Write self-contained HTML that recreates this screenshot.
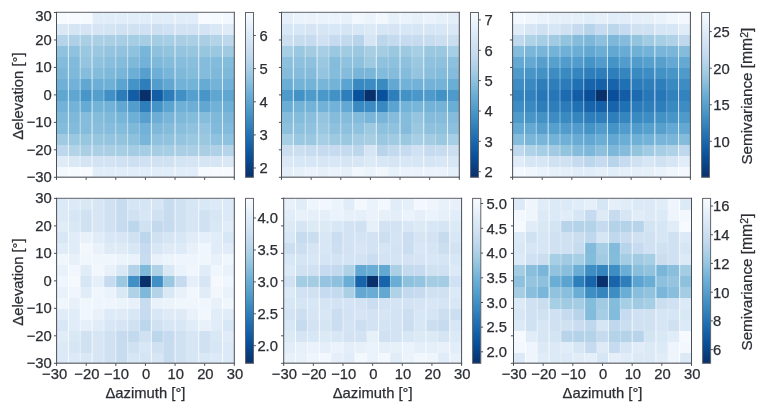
<!DOCTYPE html>
<html><head><meta charset="utf-8"><title>Semivariance maps</title>
<style>
html,body{margin:0;padding:0;background:#fff;}
body{width:765px;height:410px;overflow:hidden;}
svg{display:block;will-change:transform;}
svg text{font-family:"Liberation Sans",sans-serif;font-size:14.8px;fill:#2b2e33;stroke:#2b2e33;stroke-width:0.25px;}
</style></head><body>
<svg width="765" height="410" viewBox="0 0 765 410">
<rect width="765" height="410" fill="#fff"/>

<defs><linearGradient id="cb" x1="0" y1="0" x2="0" y2="1"><stop offset="0.00" stop-color="#f7fbff"/><stop offset="0.05" stop-color="#eef5fc"/><stop offset="0.10" stop-color="#e3eef9"/><stop offset="0.15" stop-color="#d9e8f5"/><stop offset="0.20" stop-color="#d0e1f2"/><stop offset="0.25" stop-color="#c6dbef"/><stop offset="0.30" stop-color="#b7d4ea"/><stop offset="0.35" stop-color="#a6cee4"/><stop offset="0.40" stop-color="#94c4df"/><stop offset="0.45" stop-color="#7fb9da"/><stop offset="0.50" stop-color="#6aaed6"/><stop offset="0.55" stop-color="#5ba3d0"/><stop offset="0.60" stop-color="#4a98c9"/><stop offset="0.65" stop-color="#3b8bc2"/><stop offset="0.70" stop-color="#2e7ebc"/><stop offset="0.75" stop-color="#2070b4"/><stop offset="0.80" stop-color="#1764ab"/><stop offset="0.85" stop-color="#0d57a1"/><stop offset="0.90" stop-color="#084a91"/><stop offset="0.95" stop-color="#083c7d"/><stop offset="1.00" stop-color="#08306b"/></linearGradient></defs>
<g shape-rendering="crispEdges"><rect x="56.50" y="12.50" width="12.45" height="12.29" fill="#f7fbff"/><rect x="68.35" y="12.50" width="12.45" height="12.29" fill="#f7fbff"/><rect x="80.21" y="12.50" width="12.45" height="12.29" fill="#f5fafe"/><rect x="92.06" y="12.50" width="12.45" height="12.29" fill="#e1edf8"/><rect x="103.91" y="12.50" width="12.45" height="12.29" fill="#e1edf8"/><rect x="115.77" y="12.50" width="12.45" height="12.29" fill="#e1edf8"/><rect x="127.62" y="12.50" width="12.45" height="12.29" fill="#e1edf8"/><rect x="139.47" y="12.50" width="12.45" height="12.29" fill="#e1edf8"/><rect x="151.33" y="12.50" width="12.45" height="12.29" fill="#e1edf8"/><rect x="163.18" y="12.50" width="12.45" height="12.29" fill="#e1edf8"/><rect x="175.03" y="12.50" width="12.45" height="12.29" fill="#e1edf8"/><rect x="186.89" y="12.50" width="12.45" height="12.29" fill="#e1edf8"/><rect x="198.74" y="12.50" width="12.45" height="12.29" fill="#f7fbff"/><rect x="210.59" y="12.50" width="12.45" height="12.29" fill="#f5fafe"/><rect x="222.45" y="12.50" width="11.85" height="12.29" fill="#f3f8fe"/><rect x="56.50" y="24.19" width="12.45" height="11.59" fill="#dae8f6"/><rect x="68.35" y="24.19" width="12.45" height="11.59" fill="#d6e5f4"/><rect x="80.21" y="24.19" width="12.45" height="11.59" fill="#d5e5f4"/><rect x="92.06" y="24.19" width="12.45" height="11.59" fill="#d5e5f4"/><rect x="103.91" y="24.19" width="12.45" height="11.59" fill="#d3e4f3"/><rect x="115.77" y="24.19" width="12.45" height="11.59" fill="#d0e1f2"/><rect x="127.62" y="24.19" width="12.45" height="11.59" fill="#d0e1f2"/><rect x="139.47" y="24.19" width="12.45" height="11.59" fill="#cfe1f2"/><rect x="151.33" y="24.19" width="12.45" height="11.59" fill="#cde0f1"/><rect x="163.18" y="24.19" width="12.45" height="11.59" fill="#cfe1f2"/><rect x="175.03" y="24.19" width="12.45" height="11.59" fill="#d3e3f3"/><rect x="186.89" y="24.19" width="12.45" height="11.59" fill="#d3e3f3"/><rect x="198.74" y="24.19" width="12.45" height="11.59" fill="#d4e4f4"/><rect x="210.59" y="24.19" width="12.45" height="11.59" fill="#dae8f6"/><rect x="222.45" y="24.19" width="11.85" height="11.59" fill="#dfebf7"/><rect x="56.50" y="35.17" width="12.45" height="11.59" fill="#b5d4e9"/><rect x="68.35" y="35.17" width="12.45" height="11.59" fill="#aed1e7"/><rect x="80.21" y="35.17" width="12.45" height="11.59" fill="#aacfe5"/><rect x="92.06" y="35.17" width="12.45" height="11.59" fill="#abd0e6"/><rect x="103.91" y="35.17" width="12.45" height="11.59" fill="#aacfe5"/><rect x="115.77" y="35.17" width="12.45" height="11.59" fill="#a6cee4"/><rect x="127.62" y="35.17" width="12.45" height="11.59" fill="#a5cde3"/><rect x="139.47" y="35.17" width="12.45" height="11.59" fill="#a5cde3"/><rect x="151.33" y="35.17" width="12.45" height="11.59" fill="#a4cce3"/><rect x="163.18" y="35.17" width="12.45" height="11.59" fill="#a6cee4"/><rect x="175.03" y="35.17" width="12.45" height="11.59" fill="#aacfe5"/><rect x="186.89" y="35.17" width="12.45" height="11.59" fill="#abd0e6"/><rect x="198.74" y="35.17" width="12.45" height="11.59" fill="#aacfe5"/><rect x="210.59" y="35.17" width="12.45" height="11.59" fill="#b3d3e8"/><rect x="222.45" y="35.17" width="11.85" height="11.59" fill="#bdd7ec"/><rect x="56.50" y="46.16" width="12.45" height="11.59" fill="#8fc2de"/><rect x="68.35" y="46.16" width="12.45" height="11.59" fill="#8fc2de"/><rect x="80.21" y="46.16" width="12.45" height="11.59" fill="#9ac8e0"/><rect x="92.06" y="46.16" width="12.45" height="11.59" fill="#9ac8e0"/><rect x="103.91" y="46.16" width="12.45" height="11.59" fill="#94c4df"/><rect x="115.77" y="46.16" width="12.45" height="11.59" fill="#91c3de"/><rect x="127.62" y="46.16" width="12.45" height="11.59" fill="#8fc2de"/><rect x="139.47" y="46.16" width="12.45" height="11.59" fill="#77b5d9"/><rect x="151.33" y="46.16" width="12.45" height="11.59" fill="#8dc1dd"/><rect x="163.18" y="46.16" width="12.45" height="11.59" fill="#92c4de"/><rect x="175.03" y="46.16" width="12.45" height="11.59" fill="#94c4df"/><rect x="186.89" y="46.16" width="12.45" height="11.59" fill="#97c6df"/><rect x="198.74" y="46.16" width="12.45" height="11.59" fill="#97c6df"/><rect x="210.59" y="46.16" width="12.45" height="11.59" fill="#9ac8e0"/><rect x="222.45" y="46.16" width="11.85" height="11.59" fill="#9fcae1"/><rect x="56.50" y="57.15" width="12.45" height="11.59" fill="#82bbdb"/><rect x="68.35" y="57.15" width="12.45" height="11.59" fill="#81badb"/><rect x="80.21" y="57.15" width="12.45" height="11.59" fill="#94c4df"/><rect x="92.06" y="57.15" width="12.45" height="11.59" fill="#8fc2de"/><rect x="103.91" y="57.15" width="12.45" height="11.59" fill="#89bedc"/><rect x="115.77" y="57.15" width="12.45" height="11.59" fill="#85bcdc"/><rect x="127.62" y="57.15" width="12.45" height="11.59" fill="#7fb9da"/><rect x="139.47" y="57.15" width="12.45" height="11.59" fill="#72b2d8"/><rect x="151.33" y="57.15" width="12.45" height="11.59" fill="#7fb9da"/><rect x="163.18" y="57.15" width="12.45" height="11.59" fill="#84bcdb"/><rect x="175.03" y="57.15" width="12.45" height="11.59" fill="#87bddc"/><rect x="186.89" y="57.15" width="12.45" height="11.59" fill="#89bedc"/><rect x="198.74" y="57.15" width="12.45" height="11.59" fill="#85bcdc"/><rect x="210.59" y="57.15" width="12.45" height="11.59" fill="#82bbdb"/><rect x="222.45" y="57.15" width="11.85" height="11.59" fill="#84bcdb"/><rect x="56.50" y="68.13" width="12.45" height="11.59" fill="#7cb7da"/><rect x="68.35" y="68.13" width="12.45" height="11.59" fill="#7fb9da"/><rect x="80.21" y="68.13" width="12.45" height="11.59" fill="#87bddc"/><rect x="92.06" y="68.13" width="12.45" height="11.59" fill="#84bcdb"/><rect x="103.91" y="68.13" width="12.45" height="11.59" fill="#7fb9da"/><rect x="115.77" y="68.13" width="12.45" height="11.59" fill="#79b5d9"/><rect x="127.62" y="68.13" width="12.45" height="11.59" fill="#6caed6"/><rect x="139.47" y="68.13" width="12.45" height="11.59" fill="#57a0ce"/><rect x="151.33" y="68.13" width="12.45" height="11.59" fill="#6dafd7"/><rect x="163.18" y="68.13" width="12.45" height="11.59" fill="#77b5d9"/><rect x="175.03" y="68.13" width="12.45" height="11.59" fill="#7fb9da"/><rect x="186.89" y="68.13" width="12.45" height="11.59" fill="#84bcdb"/><rect x="198.74" y="68.13" width="12.45" height="11.59" fill="#85bcdc"/><rect x="210.59" y="68.13" width="12.45" height="11.59" fill="#7fb9da"/><rect x="222.45" y="68.13" width="11.85" height="11.59" fill="#7fb9da"/><rect x="56.50" y="79.12" width="12.45" height="11.59" fill="#6fb0d7"/><rect x="68.35" y="79.12" width="12.45" height="11.59" fill="#72b2d8"/><rect x="80.21" y="79.12" width="12.45" height="11.59" fill="#61a7d2"/><rect x="92.06" y="79.12" width="12.45" height="11.59" fill="#6caed6"/><rect x="103.91" y="79.12" width="12.45" height="11.59" fill="#6fb0d7"/><rect x="115.77" y="79.12" width="12.45" height="11.59" fill="#5ba3d0"/><rect x="127.62" y="79.12" width="12.45" height="11.59" fill="#4594c7"/><rect x="139.47" y="79.12" width="12.45" height="11.59" fill="#2e7ebc"/><rect x="151.33" y="79.12" width="12.45" height="11.59" fill="#529dcc"/><rect x="163.18" y="79.12" width="12.45" height="11.59" fill="#61a7d2"/><rect x="175.03" y="79.12" width="12.45" height="11.59" fill="#72b2d8"/><rect x="186.89" y="79.12" width="12.45" height="11.59" fill="#74b3d8"/><rect x="198.74" y="79.12" width="12.45" height="11.59" fill="#66abd4"/><rect x="210.59" y="79.12" width="12.45" height="11.59" fill="#74b3d8"/><rect x="222.45" y="79.12" width="11.85" height="11.59" fill="#72b2d8"/><rect x="56.50" y="90.11" width="12.45" height="11.59" fill="#5fa6d1"/><rect x="68.35" y="90.11" width="12.45" height="11.59" fill="#5fa6d1"/><rect x="80.21" y="90.11" width="12.45" height="11.59" fill="#4896c8"/><rect x="92.06" y="90.11" width="12.45" height="11.59" fill="#549fcd"/><rect x="103.91" y="90.11" width="12.45" height="11.59" fill="#4090c5"/><rect x="115.77" y="90.11" width="12.45" height="11.59" fill="#2c7cba"/><rect x="127.62" y="90.11" width="12.45" height="11.59" fill="#125ea6"/><rect x="139.47" y="90.11" width="12.45" height="11.59" fill="#08306b"/><rect x="151.33" y="90.11" width="12.45" height="11.59" fill="#125ea6"/><rect x="163.18" y="90.11" width="12.45" height="11.59" fill="#2c7cba"/><rect x="175.03" y="90.11" width="12.45" height="11.59" fill="#4090c5"/><rect x="186.89" y="90.11" width="12.45" height="11.59" fill="#549fcd"/><rect x="198.74" y="90.11" width="12.45" height="11.59" fill="#4896c8"/><rect x="210.59" y="90.11" width="12.45" height="11.59" fill="#5fa6d1"/><rect x="222.45" y="90.11" width="11.85" height="11.59" fill="#5fa6d1"/><rect x="56.50" y="101.09" width="12.45" height="11.59" fill="#72b2d8"/><rect x="68.35" y="101.09" width="12.45" height="11.59" fill="#74b3d8"/><rect x="80.21" y="101.09" width="12.45" height="11.59" fill="#66abd4"/><rect x="92.06" y="101.09" width="12.45" height="11.59" fill="#74b3d8"/><rect x="103.91" y="101.09" width="12.45" height="11.59" fill="#72b2d8"/><rect x="115.77" y="101.09" width="12.45" height="11.59" fill="#61a7d2"/><rect x="127.62" y="101.09" width="12.45" height="11.59" fill="#529dcc"/><rect x="139.47" y="101.09" width="12.45" height="11.59" fill="#2e7ebc"/><rect x="151.33" y="101.09" width="12.45" height="11.59" fill="#4594c7"/><rect x="163.18" y="101.09" width="12.45" height="11.59" fill="#5ba3d0"/><rect x="175.03" y="101.09" width="12.45" height="11.59" fill="#6fb0d7"/><rect x="186.89" y="101.09" width="12.45" height="11.59" fill="#6caed6"/><rect x="198.74" y="101.09" width="12.45" height="11.59" fill="#61a7d2"/><rect x="210.59" y="101.09" width="12.45" height="11.59" fill="#72b2d8"/><rect x="222.45" y="101.09" width="11.85" height="11.59" fill="#6fb0d7"/><rect x="56.50" y="112.08" width="12.45" height="11.59" fill="#7fb9da"/><rect x="68.35" y="112.08" width="12.45" height="11.59" fill="#7fb9da"/><rect x="80.21" y="112.08" width="12.45" height="11.59" fill="#85bcdc"/><rect x="92.06" y="112.08" width="12.45" height="11.59" fill="#84bcdb"/><rect x="103.91" y="112.08" width="12.45" height="11.59" fill="#7fb9da"/><rect x="115.77" y="112.08" width="12.45" height="11.59" fill="#77b5d9"/><rect x="127.62" y="112.08" width="12.45" height="11.59" fill="#6dafd7"/><rect x="139.47" y="112.08" width="12.45" height="11.59" fill="#57a0ce"/><rect x="151.33" y="112.08" width="12.45" height="11.59" fill="#6caed6"/><rect x="163.18" y="112.08" width="12.45" height="11.59" fill="#79b5d9"/><rect x="175.03" y="112.08" width="12.45" height="11.59" fill="#7fb9da"/><rect x="186.89" y="112.08" width="12.45" height="11.59" fill="#84bcdb"/><rect x="198.74" y="112.08" width="12.45" height="11.59" fill="#87bddc"/><rect x="210.59" y="112.08" width="12.45" height="11.59" fill="#7fb9da"/><rect x="222.45" y="112.08" width="11.85" height="11.59" fill="#7cb7da"/><rect x="56.50" y="123.07" width="12.45" height="11.59" fill="#84bcdb"/><rect x="68.35" y="123.07" width="12.45" height="11.59" fill="#82bbdb"/><rect x="80.21" y="123.07" width="12.45" height="11.59" fill="#85bcdc"/><rect x="92.06" y="123.07" width="12.45" height="11.59" fill="#89bedc"/><rect x="103.91" y="123.07" width="12.45" height="11.59" fill="#87bddc"/><rect x="115.77" y="123.07" width="12.45" height="11.59" fill="#84bcdb"/><rect x="127.62" y="123.07" width="12.45" height="11.59" fill="#7fb9da"/><rect x="139.47" y="123.07" width="12.45" height="11.59" fill="#72b2d8"/><rect x="151.33" y="123.07" width="12.45" height="11.59" fill="#7fb9da"/><rect x="163.18" y="123.07" width="12.45" height="11.59" fill="#85bcdc"/><rect x="175.03" y="123.07" width="12.45" height="11.59" fill="#89bedc"/><rect x="186.89" y="123.07" width="12.45" height="11.59" fill="#8fc2de"/><rect x="198.74" y="123.07" width="12.45" height="11.59" fill="#94c4df"/><rect x="210.59" y="123.07" width="12.45" height="11.59" fill="#81badb"/><rect x="222.45" y="123.07" width="11.85" height="11.59" fill="#82bbdb"/><rect x="56.50" y="134.05" width="12.45" height="11.59" fill="#9fcae1"/><rect x="68.35" y="134.05" width="12.45" height="11.59" fill="#9ac8e0"/><rect x="80.21" y="134.05" width="12.45" height="11.59" fill="#97c6df"/><rect x="92.06" y="134.05" width="12.45" height="11.59" fill="#97c6df"/><rect x="103.91" y="134.05" width="12.45" height="11.59" fill="#94c4df"/><rect x="115.77" y="134.05" width="12.45" height="11.59" fill="#92c4de"/><rect x="127.62" y="134.05" width="12.45" height="11.59" fill="#8dc1dd"/><rect x="139.47" y="134.05" width="12.45" height="11.59" fill="#77b5d9"/><rect x="151.33" y="134.05" width="12.45" height="11.59" fill="#8fc2de"/><rect x="163.18" y="134.05" width="12.45" height="11.59" fill="#91c3de"/><rect x="175.03" y="134.05" width="12.45" height="11.59" fill="#94c4df"/><rect x="186.89" y="134.05" width="12.45" height="11.59" fill="#9ac8e0"/><rect x="198.74" y="134.05" width="12.45" height="11.59" fill="#9ac8e0"/><rect x="210.59" y="134.05" width="12.45" height="11.59" fill="#8fc2de"/><rect x="222.45" y="134.05" width="11.85" height="11.59" fill="#8fc2de"/><rect x="56.50" y="145.04" width="12.45" height="11.59" fill="#bdd7ec"/><rect x="68.35" y="145.04" width="12.45" height="11.59" fill="#b3d3e8"/><rect x="80.21" y="145.04" width="12.45" height="11.59" fill="#aacfe5"/><rect x="92.06" y="145.04" width="12.45" height="11.59" fill="#abd0e6"/><rect x="103.91" y="145.04" width="12.45" height="11.59" fill="#aacfe5"/><rect x="115.77" y="145.04" width="12.45" height="11.59" fill="#a6cee4"/><rect x="127.62" y="145.04" width="12.45" height="11.59" fill="#a4cce3"/><rect x="139.47" y="145.04" width="12.45" height="11.59" fill="#a5cde3"/><rect x="151.33" y="145.04" width="12.45" height="11.59" fill="#a5cde3"/><rect x="163.18" y="145.04" width="12.45" height="11.59" fill="#a6cee4"/><rect x="175.03" y="145.04" width="12.45" height="11.59" fill="#aacfe5"/><rect x="186.89" y="145.04" width="12.45" height="11.59" fill="#abd0e6"/><rect x="198.74" y="145.04" width="12.45" height="11.59" fill="#aacfe5"/><rect x="210.59" y="145.04" width="12.45" height="11.59" fill="#aed1e7"/><rect x="222.45" y="145.04" width="11.85" height="11.59" fill="#b5d4e9"/><rect x="56.50" y="156.03" width="12.45" height="11.59" fill="#dfebf7"/><rect x="68.35" y="156.03" width="12.45" height="11.59" fill="#dae8f6"/><rect x="80.21" y="156.03" width="12.45" height="11.59" fill="#d4e4f4"/><rect x="92.06" y="156.03" width="12.45" height="11.59" fill="#d3e3f3"/><rect x="103.91" y="156.03" width="12.45" height="11.59" fill="#d3e3f3"/><rect x="115.77" y="156.03" width="12.45" height="11.59" fill="#cfe1f2"/><rect x="127.62" y="156.03" width="12.45" height="11.59" fill="#cde0f1"/><rect x="139.47" y="156.03" width="12.45" height="11.59" fill="#cfe1f2"/><rect x="151.33" y="156.03" width="12.45" height="11.59" fill="#d0e1f2"/><rect x="163.18" y="156.03" width="12.45" height="11.59" fill="#d0e1f2"/><rect x="175.03" y="156.03" width="12.45" height="11.59" fill="#d3e4f3"/><rect x="186.89" y="156.03" width="12.45" height="11.59" fill="#d5e5f4"/><rect x="198.74" y="156.03" width="12.45" height="11.59" fill="#d5e5f4"/><rect x="210.59" y="156.03" width="12.45" height="11.59" fill="#d6e5f4"/><rect x="222.45" y="156.03" width="11.85" height="11.59" fill="#dae8f6"/><rect x="56.50" y="167.01" width="12.45" height="10.29" fill="#f3f8fe"/><rect x="68.35" y="167.01" width="12.45" height="10.29" fill="#f5fafe"/><rect x="80.21" y="167.01" width="12.45" height="10.29" fill="#f7fbff"/><rect x="92.06" y="167.01" width="12.45" height="10.29" fill="#e1edf8"/><rect x="103.91" y="167.01" width="12.45" height="10.29" fill="#e1edf8"/><rect x="115.77" y="167.01" width="12.45" height="10.29" fill="#e1edf8"/><rect x="127.62" y="167.01" width="12.45" height="10.29" fill="#e1edf8"/><rect x="139.47" y="167.01" width="12.45" height="10.29" fill="#e1edf8"/><rect x="151.33" y="167.01" width="12.45" height="10.29" fill="#e1edf8"/><rect x="163.18" y="167.01" width="12.45" height="10.29" fill="#e1edf8"/><rect x="175.03" y="167.01" width="12.45" height="10.29" fill="#e1edf8"/><rect x="186.89" y="167.01" width="12.45" height="10.29" fill="#e1edf8"/><rect x="198.74" y="167.01" width="12.45" height="10.29" fill="#f5fafe"/><rect x="210.59" y="167.01" width="12.45" height="10.29" fill="#f7fbff"/><rect x="222.45" y="167.01" width="11.85" height="10.29" fill="#f7fbff"/></g>
<g fill="#fff"><rect x="67.85" y="12.50" width="1" height="164.80" opacity="0.77"/><rect x="79.71" y="12.50" width="1" height="164.80" opacity="0.50"/><rect x="91.56" y="12.50" width="1" height="164.80" opacity="0.77"/><rect x="103.41" y="12.50" width="1" height="164.80" opacity="0.39"/><rect x="115.27" y="12.50" width="1" height="164.80" opacity="0.50"/><rect x="127.12" y="12.50" width="1" height="164.80" opacity="0.55"/><rect x="138.97" y="12.50" width="1" height="164.80" opacity="0.28"/><rect x="150.83" y="12.50" width="1" height="164.80" opacity="0.77"/><rect x="162.68" y="12.50" width="1" height="164.80" opacity="0.28"/><rect x="174.53" y="12.50" width="1" height="164.80" opacity="0.77"/><rect x="186.39" y="12.50" width="1" height="164.80" opacity="0.28"/><rect x="198.24" y="12.50" width="1" height="164.80" opacity="0.77"/><rect x="210.09" y="12.50" width="1" height="164.80" opacity="0.28"/><rect x="221.95" y="12.50" width="1" height="164.80" opacity="0.77"/></g>
<path d="M56.00,12.40H234.80M56.00,177.20H234.80" stroke="#7c8086" stroke-width="1.35" fill="none"/>
<path d="M56.50,11.90V177.80M234.30,11.90V177.80" stroke="#4a4e55" stroke-width="1" fill="none"/>
<path d="M56.50,177.30v2.6 M56.50,177.30h-2.6 M86.13,177.30v2.6 M56.50,149.83h-2.6 M115.77,177.30v2.6 M56.50,122.37h-2.6 M145.40,177.30v2.6 M56.50,94.90h-2.6 M175.03,177.30v2.6 M56.50,67.43h-2.6 M204.67,177.30v2.6 M56.50,39.97h-2.6 M234.30,177.30v2.6 M56.50,12.50h-2.6" stroke="#4a4e55" stroke-width="1" fill="none"/>
<text x="51.8" y="182.00" text-anchor="end">−30</text>
<text x="51.8" y="154.53" text-anchor="end">−20</text>
<text x="51.8" y="127.07" text-anchor="end">−10</text>
<text x="51.8" y="99.60" text-anchor="end">0</text>
<text x="51.8" y="72.13" text-anchor="end">10</text>
<text x="51.8" y="44.67" text-anchor="end">20</text>
<text x="51.8" y="21.00" text-anchor="end">30</text>
<text transform="translate(22.8,96.10) rotate(-90)" text-anchor="middle">Δelevation [°]</text>
<g shape-rendering="crispEdges"><rect x="281.50" y="12.50" width="12.45" height="12.29" fill="#e4eff9"/><rect x="293.35" y="12.50" width="12.45" height="12.29" fill="#eaf2fb"/><rect x="305.21" y="12.50" width="12.45" height="12.29" fill="#eaf2fb"/><rect x="317.06" y="12.50" width="12.45" height="12.29" fill="#eaf2fb"/><rect x="328.91" y="12.50" width="12.45" height="12.29" fill="#eaf2fb"/><rect x="340.77" y="12.50" width="12.45" height="12.29" fill="#e7f1fa"/><rect x="352.62" y="12.50" width="12.45" height="12.29" fill="#f1f7fd"/><rect x="364.47" y="12.50" width="12.45" height="12.29" fill="#ecf4fb"/><rect x="376.33" y="12.50" width="12.45" height="12.29" fill="#f1f7fd"/><rect x="388.18" y="12.50" width="12.45" height="12.29" fill="#e6f0f9"/><rect x="400.03" y="12.50" width="12.45" height="12.29" fill="#eaf2fb"/><rect x="411.89" y="12.50" width="12.45" height="12.29" fill="#e6f0f9"/><rect x="423.74" y="12.50" width="12.45" height="12.29" fill="#eaf2fb"/><rect x="435.59" y="12.50" width="12.45" height="12.29" fill="#e6f0f9"/><rect x="447.45" y="12.50" width="11.85" height="12.29" fill="#e3eef8"/><rect x="281.50" y="24.19" width="12.45" height="11.59" fill="#d8e7f5"/><rect x="293.35" y="24.19" width="12.45" height="11.59" fill="#d8e7f5"/><rect x="305.21" y="24.19" width="12.45" height="11.59" fill="#d6e5f4"/><rect x="317.06" y="24.19" width="12.45" height="11.59" fill="#d7e6f5"/><rect x="328.91" y="24.19" width="12.45" height="11.59" fill="#d8e7f5"/><rect x="340.77" y="24.19" width="12.45" height="11.59" fill="#d6e5f4"/><rect x="352.62" y="24.19" width="12.45" height="11.59" fill="#d8e7f5"/><rect x="364.47" y="24.19" width="12.45" height="11.59" fill="#dceaf6"/><rect x="376.33" y="24.19" width="12.45" height="11.59" fill="#d7e6f5"/><rect x="388.18" y="24.19" width="12.45" height="11.59" fill="#d6e5f4"/><rect x="400.03" y="24.19" width="12.45" height="11.59" fill="#d8e7f5"/><rect x="411.89" y="24.19" width="12.45" height="11.59" fill="#d7e6f5"/><rect x="423.74" y="24.19" width="12.45" height="11.59" fill="#d7e6f5"/><rect x="435.59" y="24.19" width="12.45" height="11.59" fill="#d8e7f5"/><rect x="447.45" y="24.19" width="11.85" height="11.59" fill="#dae8f6"/><rect x="281.50" y="35.17" width="12.45" height="11.59" fill="#ccdff1"/><rect x="293.35" y="35.17" width="12.45" height="11.59" fill="#c8dcf0"/><rect x="305.21" y="35.17" width="12.45" height="11.59" fill="#c6dbef"/><rect x="317.06" y="35.17" width="12.45" height="11.59" fill="#cfe1f2"/><rect x="328.91" y="35.17" width="12.45" height="11.59" fill="#c6dbef"/><rect x="340.77" y="35.17" width="12.45" height="11.59" fill="#c2d9ee"/><rect x="352.62" y="35.17" width="12.45" height="11.59" fill="#b7d4ea"/><rect x="364.47" y="35.17" width="12.45" height="11.59" fill="#d6e5f4"/><rect x="376.33" y="35.17" width="12.45" height="11.59" fill="#bcd7eb"/><rect x="388.18" y="35.17" width="12.45" height="11.59" fill="#c4daee"/><rect x="400.03" y="35.17" width="12.45" height="11.59" fill="#c6dbef"/><rect x="411.89" y="35.17" width="12.45" height="11.59" fill="#c6dbef"/><rect x="423.74" y="35.17" width="12.45" height="11.59" fill="#c8dcf0"/><rect x="435.59" y="35.17" width="12.45" height="11.59" fill="#ccdff1"/><rect x="447.45" y="35.17" width="11.85" height="11.59" fill="#cadef0"/><rect x="281.50" y="46.16" width="12.45" height="11.59" fill="#a6cee4"/><rect x="293.35" y="46.16" width="12.45" height="11.59" fill="#9ac8e0"/><rect x="305.21" y="46.16" width="12.45" height="11.59" fill="#a3cce3"/><rect x="317.06" y="46.16" width="12.45" height="11.59" fill="#a6cee4"/><rect x="328.91" y="46.16" width="12.45" height="11.59" fill="#9ac8e0"/><rect x="340.77" y="46.16" width="12.45" height="11.59" fill="#a0cbe2"/><rect x="352.62" y="46.16" width="12.45" height="11.59" fill="#9ac8e0"/><rect x="364.47" y="46.16" width="12.45" height="11.59" fill="#a8cee4"/><rect x="376.33" y="46.16" width="12.45" height="11.59" fill="#a4cce3"/><rect x="388.18" y="46.16" width="12.45" height="11.59" fill="#9ac8e0"/><rect x="400.03" y="46.16" width="12.45" height="11.59" fill="#9dcae1"/><rect x="411.89" y="46.16" width="12.45" height="11.59" fill="#a6cee4"/><rect x="423.74" y="46.16" width="12.45" height="11.59" fill="#9ac8e0"/><rect x="435.59" y="46.16" width="12.45" height="11.59" fill="#9ac8e0"/><rect x="447.45" y="46.16" width="11.85" height="11.59" fill="#a6cee4"/><rect x="281.50" y="57.15" width="12.45" height="11.59" fill="#8cc0dd"/><rect x="293.35" y="57.15" width="12.45" height="11.59" fill="#8dc1dd"/><rect x="305.21" y="57.15" width="12.45" height="11.59" fill="#8dc1dd"/><rect x="317.06" y="57.15" width="12.45" height="11.59" fill="#9ac8e0"/><rect x="328.91" y="57.15" width="12.45" height="11.59" fill="#85bcdc"/><rect x="340.77" y="57.15" width="12.45" height="11.59" fill="#8fc2de"/><rect x="352.62" y="57.15" width="12.45" height="11.59" fill="#8dc1dd"/><rect x="364.47" y="57.15" width="12.45" height="11.59" fill="#9dcae1"/><rect x="376.33" y="57.15" width="12.45" height="11.59" fill="#8fc2de"/><rect x="388.18" y="57.15" width="12.45" height="11.59" fill="#8dc1dd"/><rect x="400.03" y="57.15" width="12.45" height="11.59" fill="#8dc1dd"/><rect x="411.89" y="57.15" width="12.45" height="11.59" fill="#9ac8e0"/><rect x="423.74" y="57.15" width="12.45" height="11.59" fill="#8fc2de"/><rect x="435.59" y="57.15" width="12.45" height="11.59" fill="#8dc1dd"/><rect x="447.45" y="57.15" width="11.85" height="11.59" fill="#8cc0dd"/><rect x="281.50" y="68.13" width="12.45" height="11.59" fill="#85bcdc"/><rect x="293.35" y="68.13" width="12.45" height="11.59" fill="#85bcdc"/><rect x="305.21" y="68.13" width="12.45" height="11.59" fill="#85bcdc"/><rect x="317.06" y="68.13" width="12.45" height="11.59" fill="#94c4df"/><rect x="328.91" y="68.13" width="12.45" height="11.59" fill="#84bcdb"/><rect x="340.77" y="68.13" width="12.45" height="11.59" fill="#85bcdc"/><rect x="352.62" y="68.13" width="12.45" height="11.59" fill="#79b5d9"/><rect x="364.47" y="68.13" width="12.45" height="11.59" fill="#7ab6d9"/><rect x="376.33" y="68.13" width="12.45" height="11.59" fill="#82bbdb"/><rect x="388.18" y="68.13" width="12.45" height="11.59" fill="#85bcdc"/><rect x="400.03" y="68.13" width="12.45" height="11.59" fill="#85bcdc"/><rect x="411.89" y="68.13" width="12.45" height="11.59" fill="#94c4df"/><rect x="423.74" y="68.13" width="12.45" height="11.59" fill="#89bedc"/><rect x="435.59" y="68.13" width="12.45" height="11.59" fill="#84bcdb"/><rect x="447.45" y="68.13" width="11.85" height="11.59" fill="#85bcdc"/><rect x="281.50" y="79.12" width="12.45" height="11.59" fill="#6aaed6"/><rect x="293.35" y="79.12" width="12.45" height="11.59" fill="#74b3d8"/><rect x="305.21" y="79.12" width="12.45" height="11.59" fill="#74b3d8"/><rect x="317.06" y="79.12" width="12.45" height="11.59" fill="#77b5d9"/><rect x="328.91" y="79.12" width="12.45" height="11.59" fill="#74b3d8"/><rect x="340.77" y="79.12" width="12.45" height="11.59" fill="#5ba3d0"/><rect x="352.62" y="79.12" width="12.45" height="11.59" fill="#3888c1"/><rect x="364.47" y="79.12" width="12.45" height="11.59" fill="#3c8cc3"/><rect x="376.33" y="79.12" width="12.45" height="11.59" fill="#3a8ac2"/><rect x="388.18" y="79.12" width="12.45" height="11.59" fill="#63a8d3"/><rect x="400.03" y="79.12" width="12.45" height="11.59" fill="#72b2d8"/><rect x="411.89" y="79.12" width="12.45" height="11.59" fill="#72b2d8"/><rect x="423.74" y="79.12" width="12.45" height="11.59" fill="#74b3d8"/><rect x="435.59" y="79.12" width="12.45" height="11.59" fill="#74b3d8"/><rect x="447.45" y="79.12" width="11.85" height="11.59" fill="#6aaed6"/><rect x="281.50" y="90.11" width="12.45" height="11.59" fill="#4e9acb"/><rect x="293.35" y="90.11" width="12.45" height="11.59" fill="#4292c6"/><rect x="305.21" y="90.11" width="12.45" height="11.59" fill="#4e9acb"/><rect x="317.06" y="90.11" width="12.45" height="11.59" fill="#4a98c9"/><rect x="328.91" y="90.11" width="12.45" height="11.59" fill="#4292c6"/><rect x="340.77" y="90.11" width="12.45" height="11.59" fill="#2e7ebc"/><rect x="352.62" y="90.11" width="12.45" height="11.59" fill="#08519c"/><rect x="364.47" y="90.11" width="12.45" height="11.59" fill="#08306b"/><rect x="376.33" y="90.11" width="12.45" height="11.59" fill="#08519c"/><rect x="388.18" y="90.11" width="12.45" height="11.59" fill="#2e7ebc"/><rect x="400.03" y="90.11" width="12.45" height="11.59" fill="#4292c6"/><rect x="411.89" y="90.11" width="12.45" height="11.59" fill="#4a98c9"/><rect x="423.74" y="90.11" width="12.45" height="11.59" fill="#4e9acb"/><rect x="435.59" y="90.11" width="12.45" height="11.59" fill="#4292c6"/><rect x="447.45" y="90.11" width="11.85" height="11.59" fill="#4e9acb"/><rect x="281.50" y="101.09" width="12.45" height="11.59" fill="#6aaed6"/><rect x="293.35" y="101.09" width="12.45" height="11.59" fill="#74b3d8"/><rect x="305.21" y="101.09" width="12.45" height="11.59" fill="#74b3d8"/><rect x="317.06" y="101.09" width="12.45" height="11.59" fill="#72b2d8"/><rect x="328.91" y="101.09" width="12.45" height="11.59" fill="#72b2d8"/><rect x="340.77" y="101.09" width="12.45" height="11.59" fill="#63a8d3"/><rect x="352.62" y="101.09" width="12.45" height="11.59" fill="#3a8ac2"/><rect x="364.47" y="101.09" width="12.45" height="11.59" fill="#3c8cc3"/><rect x="376.33" y="101.09" width="12.45" height="11.59" fill="#3888c1"/><rect x="388.18" y="101.09" width="12.45" height="11.59" fill="#5ba3d0"/><rect x="400.03" y="101.09" width="12.45" height="11.59" fill="#74b3d8"/><rect x="411.89" y="101.09" width="12.45" height="11.59" fill="#77b5d9"/><rect x="423.74" y="101.09" width="12.45" height="11.59" fill="#74b3d8"/><rect x="435.59" y="101.09" width="12.45" height="11.59" fill="#74b3d8"/><rect x="447.45" y="101.09" width="11.85" height="11.59" fill="#6aaed6"/><rect x="281.50" y="112.08" width="12.45" height="11.59" fill="#85bcdc"/><rect x="293.35" y="112.08" width="12.45" height="11.59" fill="#84bcdb"/><rect x="305.21" y="112.08" width="12.45" height="11.59" fill="#89bedc"/><rect x="317.06" y="112.08" width="12.45" height="11.59" fill="#94c4df"/><rect x="328.91" y="112.08" width="12.45" height="11.59" fill="#85bcdc"/><rect x="340.77" y="112.08" width="12.45" height="11.59" fill="#85bcdc"/><rect x="352.62" y="112.08" width="12.45" height="11.59" fill="#82bbdb"/><rect x="364.47" y="112.08" width="12.45" height="11.59" fill="#7ab6d9"/><rect x="376.33" y="112.08" width="12.45" height="11.59" fill="#79b5d9"/><rect x="388.18" y="112.08" width="12.45" height="11.59" fill="#85bcdc"/><rect x="400.03" y="112.08" width="12.45" height="11.59" fill="#84bcdb"/><rect x="411.89" y="112.08" width="12.45" height="11.59" fill="#94c4df"/><rect x="423.74" y="112.08" width="12.45" height="11.59" fill="#85bcdc"/><rect x="435.59" y="112.08" width="12.45" height="11.59" fill="#85bcdc"/><rect x="447.45" y="112.08" width="11.85" height="11.59" fill="#85bcdc"/><rect x="281.50" y="123.07" width="12.45" height="11.59" fill="#8cc0dd"/><rect x="293.35" y="123.07" width="12.45" height="11.59" fill="#8dc1dd"/><rect x="305.21" y="123.07" width="12.45" height="11.59" fill="#8fc2de"/><rect x="317.06" y="123.07" width="12.45" height="11.59" fill="#9ac8e0"/><rect x="328.91" y="123.07" width="12.45" height="11.59" fill="#8dc1dd"/><rect x="340.77" y="123.07" width="12.45" height="11.59" fill="#8dc1dd"/><rect x="352.62" y="123.07" width="12.45" height="11.59" fill="#8fc2de"/><rect x="364.47" y="123.07" width="12.45" height="11.59" fill="#9dcae1"/><rect x="376.33" y="123.07" width="12.45" height="11.59" fill="#8dc1dd"/><rect x="388.18" y="123.07" width="12.45" height="11.59" fill="#8fc2de"/><rect x="400.03" y="123.07" width="12.45" height="11.59" fill="#85bcdc"/><rect x="411.89" y="123.07" width="12.45" height="11.59" fill="#9ac8e0"/><rect x="423.74" y="123.07" width="12.45" height="11.59" fill="#8dc1dd"/><rect x="435.59" y="123.07" width="12.45" height="11.59" fill="#8dc1dd"/><rect x="447.45" y="123.07" width="11.85" height="11.59" fill="#8cc0dd"/><rect x="281.50" y="134.05" width="12.45" height="11.59" fill="#a6cee4"/><rect x="293.35" y="134.05" width="12.45" height="11.59" fill="#9ac8e0"/><rect x="305.21" y="134.05" width="12.45" height="11.59" fill="#9ac8e0"/><rect x="317.06" y="134.05" width="12.45" height="11.59" fill="#a6cee4"/><rect x="328.91" y="134.05" width="12.45" height="11.59" fill="#9dcae1"/><rect x="340.77" y="134.05" width="12.45" height="11.59" fill="#9ac8e0"/><rect x="352.62" y="134.05" width="12.45" height="11.59" fill="#a4cce3"/><rect x="364.47" y="134.05" width="12.45" height="11.59" fill="#a8cee4"/><rect x="376.33" y="134.05" width="12.45" height="11.59" fill="#9ac8e0"/><rect x="388.18" y="134.05" width="12.45" height="11.59" fill="#a0cbe2"/><rect x="400.03" y="134.05" width="12.45" height="11.59" fill="#9ac8e0"/><rect x="411.89" y="134.05" width="12.45" height="11.59" fill="#a6cee4"/><rect x="423.74" y="134.05" width="12.45" height="11.59" fill="#a3cce3"/><rect x="435.59" y="134.05" width="12.45" height="11.59" fill="#9ac8e0"/><rect x="447.45" y="134.05" width="11.85" height="11.59" fill="#a6cee4"/><rect x="281.50" y="145.04" width="12.45" height="11.59" fill="#cadef0"/><rect x="293.35" y="145.04" width="12.45" height="11.59" fill="#ccdff1"/><rect x="305.21" y="145.04" width="12.45" height="11.59" fill="#c8dcf0"/><rect x="317.06" y="145.04" width="12.45" height="11.59" fill="#c6dbef"/><rect x="328.91" y="145.04" width="12.45" height="11.59" fill="#c6dbef"/><rect x="340.77" y="145.04" width="12.45" height="11.59" fill="#c4daee"/><rect x="352.62" y="145.04" width="12.45" height="11.59" fill="#bcd7eb"/><rect x="364.47" y="145.04" width="12.45" height="11.59" fill="#d6e5f4"/><rect x="376.33" y="145.04" width="12.45" height="11.59" fill="#b7d4ea"/><rect x="388.18" y="145.04" width="12.45" height="11.59" fill="#c2d9ee"/><rect x="400.03" y="145.04" width="12.45" height="11.59" fill="#c6dbef"/><rect x="411.89" y="145.04" width="12.45" height="11.59" fill="#cfe1f2"/><rect x="423.74" y="145.04" width="12.45" height="11.59" fill="#c6dbef"/><rect x="435.59" y="145.04" width="12.45" height="11.59" fill="#c8dcf0"/><rect x="447.45" y="145.04" width="11.85" height="11.59" fill="#ccdff1"/><rect x="281.50" y="156.03" width="12.45" height="11.59" fill="#dae8f6"/><rect x="293.35" y="156.03" width="12.45" height="11.59" fill="#d8e7f5"/><rect x="305.21" y="156.03" width="12.45" height="11.59" fill="#d7e6f5"/><rect x="317.06" y="156.03" width="12.45" height="11.59" fill="#d7e6f5"/><rect x="328.91" y="156.03" width="12.45" height="11.59" fill="#d8e7f5"/><rect x="340.77" y="156.03" width="12.45" height="11.59" fill="#d6e5f4"/><rect x="352.62" y="156.03" width="12.45" height="11.59" fill="#d7e6f5"/><rect x="364.47" y="156.03" width="12.45" height="11.59" fill="#dceaf6"/><rect x="376.33" y="156.03" width="12.45" height="11.59" fill="#d8e7f5"/><rect x="388.18" y="156.03" width="12.45" height="11.59" fill="#d6e5f4"/><rect x="400.03" y="156.03" width="12.45" height="11.59" fill="#d8e7f5"/><rect x="411.89" y="156.03" width="12.45" height="11.59" fill="#d7e6f5"/><rect x="423.74" y="156.03" width="12.45" height="11.59" fill="#d6e5f4"/><rect x="435.59" y="156.03" width="12.45" height="11.59" fill="#d8e7f5"/><rect x="447.45" y="156.03" width="11.85" height="11.59" fill="#d8e7f5"/><rect x="281.50" y="167.01" width="12.45" height="10.29" fill="#e3eef8"/><rect x="293.35" y="167.01" width="12.45" height="10.29" fill="#e6f0f9"/><rect x="305.21" y="167.01" width="12.45" height="10.29" fill="#eaf2fb"/><rect x="317.06" y="167.01" width="12.45" height="10.29" fill="#e6f0f9"/><rect x="328.91" y="167.01" width="12.45" height="10.29" fill="#eaf2fb"/><rect x="340.77" y="167.01" width="12.45" height="10.29" fill="#e6f0f9"/><rect x="352.62" y="167.01" width="12.45" height="10.29" fill="#f1f7fd"/><rect x="364.47" y="167.01" width="12.45" height="10.29" fill="#ecf4fb"/><rect x="376.33" y="167.01" width="12.45" height="10.29" fill="#f1f7fd"/><rect x="388.18" y="167.01" width="12.45" height="10.29" fill="#e7f1fa"/><rect x="400.03" y="167.01" width="12.45" height="10.29" fill="#eaf2fb"/><rect x="411.89" y="167.01" width="12.45" height="10.29" fill="#eaf2fb"/><rect x="423.74" y="167.01" width="12.45" height="10.29" fill="#eaf2fb"/><rect x="435.59" y="167.01" width="12.45" height="10.29" fill="#eaf2fb"/><rect x="447.45" y="167.01" width="11.85" height="10.29" fill="#e4eff9"/></g>
<g fill="#fff"><rect x="292.85" y="12.50" width="1" height="164.80" opacity="0.77"/><rect x="304.71" y="12.50" width="1" height="164.80" opacity="0.50"/><rect x="316.56" y="12.50" width="1" height="164.80" opacity="0.77"/><rect x="328.41" y="12.50" width="1" height="164.80" opacity="0.39"/><rect x="340.27" y="12.50" width="1" height="164.80" opacity="0.50"/><rect x="352.12" y="12.50" width="1" height="164.80" opacity="0.55"/><rect x="363.97" y="12.50" width="1" height="164.80" opacity="0.28"/><rect x="375.83" y="12.50" width="1" height="164.80" opacity="0.77"/><rect x="387.68" y="12.50" width="1" height="164.80" opacity="0.28"/><rect x="399.53" y="12.50" width="1" height="164.80" opacity="0.77"/><rect x="411.39" y="12.50" width="1" height="164.80" opacity="0.28"/><rect x="423.24" y="12.50" width="1" height="164.80" opacity="0.77"/><rect x="435.09" y="12.50" width="1" height="164.80" opacity="0.28"/><rect x="446.95" y="12.50" width="1" height="164.80" opacity="0.77"/></g>
<path d="M281.00,12.40H459.80M281.00,177.20H459.80" stroke="#7c8086" stroke-width="1.35" fill="none"/>
<path d="M281.50,11.90V177.80M459.30,11.90V177.80" stroke="#4a4e55" stroke-width="1" fill="none"/>
<path d="M281.50,177.30v2.6 M281.50,177.30h-2.6 M311.13,177.30v2.6 M281.50,149.83h-2.6 M340.77,177.30v2.6 M281.50,122.37h-2.6 M370.40,177.30v2.6 M281.50,94.90h-2.6 M400.03,177.30v2.6 M281.50,67.43h-2.6 M429.67,177.30v2.6 M281.50,39.97h-2.6 M459.30,177.30v2.6 M281.50,12.50h-2.6" stroke="#4a4e55" stroke-width="1" fill="none"/>
<g shape-rendering="crispEdges"><rect x="512.60" y="12.50" width="12.45" height="12.29" fill="#f3f8fe"/><rect x="524.45" y="12.50" width="12.45" height="12.29" fill="#eff6fc"/><rect x="536.31" y="12.50" width="12.45" height="12.29" fill="#eaf2fb"/><rect x="548.16" y="12.50" width="12.45" height="12.29" fill="#e6f0f9"/><rect x="560.01" y="12.50" width="12.45" height="12.29" fill="#e4eff9"/><rect x="571.87" y="12.50" width="12.45" height="12.29" fill="#e4eff9"/><rect x="583.72" y="12.50" width="12.45" height="12.29" fill="#e1edf8"/><rect x="595.57" y="12.50" width="12.45" height="12.29" fill="#e4eff9"/><rect x="607.43" y="12.50" width="12.45" height="12.29" fill="#e1edf8"/><rect x="619.28" y="12.50" width="12.45" height="12.29" fill="#e1edf8"/><rect x="631.13" y="12.50" width="12.45" height="12.29" fill="#e4eff9"/><rect x="642.99" y="12.50" width="12.45" height="12.29" fill="#e6f0f9"/><rect x="654.84" y="12.50" width="12.45" height="12.29" fill="#eaf2fb"/><rect x="666.69" y="12.50" width="12.45" height="12.29" fill="#eff6fc"/><rect x="678.55" y="12.50" width="11.85" height="12.29" fill="#f3f8fe"/><rect x="512.60" y="24.19" width="12.45" height="11.59" fill="#e0ecf8"/><rect x="524.45" y="24.19" width="12.45" height="11.59" fill="#d6e6f4"/><rect x="536.31" y="24.19" width="12.45" height="11.59" fill="#d0e1f2"/><rect x="548.16" y="24.19" width="12.45" height="11.59" fill="#d6e6f4"/><rect x="560.01" y="24.19" width="12.45" height="11.59" fill="#d0e1f2"/><rect x="571.87" y="24.19" width="12.45" height="11.59" fill="#c6dbef"/><rect x="583.72" y="24.19" width="12.45" height="11.59" fill="#b7d4ea"/><rect x="595.57" y="24.19" width="12.45" height="11.59" fill="#c6dbef"/><rect x="607.43" y="24.19" width="12.45" height="11.59" fill="#bcd7eb"/><rect x="619.28" y="24.19" width="12.45" height="11.59" fill="#c6dbef"/><rect x="631.13" y="24.19" width="12.45" height="11.59" fill="#d0e1f2"/><rect x="642.99" y="24.19" width="12.45" height="11.59" fill="#d0e1f2"/><rect x="654.84" y="24.19" width="12.45" height="11.59" fill="#d6e6f4"/><rect x="666.69" y="24.19" width="12.45" height="11.59" fill="#d6e6f4"/><rect x="678.55" y="24.19" width="11.85" height="11.59" fill="#e0ecf8"/><rect x="512.60" y="35.17" width="12.45" height="11.59" fill="#bfd8ed"/><rect x="524.45" y="35.17" width="12.45" height="11.59" fill="#b0d2e7"/><rect x="536.31" y="35.17" width="12.45" height="11.59" fill="#a6cee4"/><rect x="548.16" y="35.17" width="12.45" height="11.59" fill="#a0cbe2"/><rect x="560.01" y="35.17" width="12.45" height="11.59" fill="#92c4de"/><rect x="571.87" y="35.17" width="12.45" height="11.59" fill="#85bcdc"/><rect x="583.72" y="35.17" width="12.45" height="11.59" fill="#7db8da"/><rect x="595.57" y="35.17" width="12.45" height="11.59" fill="#8cc0dd"/><rect x="607.43" y="35.17" width="12.45" height="11.59" fill="#7db8da"/><rect x="619.28" y="35.17" width="12.45" height="11.59" fill="#85bcdc"/><rect x="631.13" y="35.17" width="12.45" height="11.59" fill="#92c4de"/><rect x="642.99" y="35.17" width="12.45" height="11.59" fill="#a0cbe2"/><rect x="654.84" y="35.17" width="12.45" height="11.59" fill="#a6cee4"/><rect x="666.69" y="35.17" width="12.45" height="11.59" fill="#b0d2e7"/><rect x="678.55" y="35.17" width="11.85" height="11.59" fill="#bfd8ed"/><rect x="512.60" y="46.16" width="12.45" height="11.59" fill="#84bcdb"/><rect x="524.45" y="46.16" width="12.45" height="11.59" fill="#7ab6d9"/><rect x="536.31" y="46.16" width="12.45" height="11.59" fill="#79b5d9"/><rect x="548.16" y="46.16" width="12.45" height="11.59" fill="#74b3d8"/><rect x="560.01" y="46.16" width="12.45" height="11.59" fill="#6fb0d7"/><rect x="571.87" y="46.16" width="12.45" height="11.59" fill="#6aaed6"/><rect x="583.72" y="46.16" width="12.45" height="11.59" fill="#63a8d3"/><rect x="595.57" y="46.16" width="12.45" height="11.59" fill="#6aaed6"/><rect x="607.43" y="46.16" width="12.45" height="11.59" fill="#63a8d3"/><rect x="619.28" y="46.16" width="12.45" height="11.59" fill="#68acd5"/><rect x="631.13" y="46.16" width="12.45" height="11.59" fill="#6fb0d7"/><rect x="642.99" y="46.16" width="12.45" height="11.59" fill="#74b3d8"/><rect x="654.84" y="46.16" width="12.45" height="11.59" fill="#79b5d9"/><rect x="666.69" y="46.16" width="12.45" height="11.59" fill="#7ab6d9"/><rect x="678.55" y="46.16" width="11.85" height="11.59" fill="#84bcdb"/><rect x="512.60" y="57.15" width="12.45" height="11.59" fill="#64a9d3"/><rect x="524.45" y="57.15" width="12.45" height="11.59" fill="#64a9d3"/><rect x="536.31" y="57.15" width="12.45" height="11.59" fill="#57a0ce"/><rect x="548.16" y="57.15" width="12.45" height="11.59" fill="#56a0ce"/><rect x="560.01" y="57.15" width="12.45" height="11.59" fill="#519ccc"/><rect x="571.87" y="57.15" width="12.45" height="11.59" fill="#519ccc"/><rect x="583.72" y="57.15" width="12.45" height="11.59" fill="#4594c7"/><rect x="595.57" y="57.15" width="12.45" height="11.59" fill="#519ccc"/><rect x="607.43" y="57.15" width="12.45" height="11.59" fill="#4594c7"/><rect x="619.28" y="57.15" width="12.45" height="11.59" fill="#519ccc"/><rect x="631.13" y="57.15" width="12.45" height="11.59" fill="#519ccc"/><rect x="642.99" y="57.15" width="12.45" height="11.59" fill="#56a0ce"/><rect x="654.84" y="57.15" width="12.45" height="11.59" fill="#57a0ce"/><rect x="666.69" y="57.15" width="12.45" height="11.59" fill="#64a9d3"/><rect x="678.55" y="57.15" width="11.85" height="11.59" fill="#64a9d3"/><rect x="512.60" y="68.13" width="12.45" height="11.59" fill="#4e9acb"/><rect x="524.45" y="68.13" width="12.45" height="11.59" fill="#4896c8"/><rect x="536.31" y="68.13" width="12.45" height="11.59" fill="#4292c6"/><rect x="548.16" y="68.13" width="12.45" height="11.59" fill="#3d8dc4"/><rect x="560.01" y="68.13" width="12.45" height="11.59" fill="#3a8ac2"/><rect x="571.87" y="68.13" width="12.45" height="11.59" fill="#3585bf"/><rect x="583.72" y="68.13" width="12.45" height="11.59" fill="#2e7ebc"/><rect x="595.57" y="68.13" width="12.45" height="11.59" fill="#2e7ebc"/><rect x="607.43" y="68.13" width="12.45" height="11.59" fill="#2e7ebc"/><rect x="619.28" y="68.13" width="12.45" height="11.59" fill="#3585bf"/><rect x="631.13" y="68.13" width="12.45" height="11.59" fill="#3a8ac2"/><rect x="642.99" y="68.13" width="12.45" height="11.59" fill="#3d8dc4"/><rect x="654.84" y="68.13" width="12.45" height="11.59" fill="#4292c6"/><rect x="666.69" y="68.13" width="12.45" height="11.59" fill="#4896c8"/><rect x="678.55" y="68.13" width="11.85" height="11.59" fill="#4e9acb"/><rect x="512.60" y="79.12" width="12.45" height="11.59" fill="#3d8dc4"/><rect x="524.45" y="79.12" width="12.45" height="11.59" fill="#3a8ac2"/><rect x="536.31" y="79.12" width="12.45" height="11.59" fill="#2e7ebc"/><rect x="548.16" y="79.12" width="12.45" height="11.59" fill="#2e7ebc"/><rect x="560.01" y="79.12" width="12.45" height="11.59" fill="#2b7bba"/><rect x="571.87" y="79.12" width="12.45" height="11.59" fill="#2070b4"/><rect x="583.72" y="79.12" width="12.45" height="11.59" fill="#1764ab"/><rect x="595.57" y="79.12" width="12.45" height="11.59" fill="#1561a9"/><rect x="607.43" y="79.12" width="12.45" height="11.59" fill="#1764ab"/><rect x="619.28" y="79.12" width="12.45" height="11.59" fill="#2070b4"/><rect x="631.13" y="79.12" width="12.45" height="11.59" fill="#2b7bba"/><rect x="642.99" y="79.12" width="12.45" height="11.59" fill="#2e7ebc"/><rect x="654.84" y="79.12" width="12.45" height="11.59" fill="#2e7ebc"/><rect x="666.69" y="79.12" width="12.45" height="11.59" fill="#3a8ac2"/><rect x="678.55" y="79.12" width="11.85" height="11.59" fill="#3d8dc4"/><rect x="512.60" y="90.11" width="12.45" height="11.59" fill="#3383be"/><rect x="524.45" y="90.11" width="12.45" height="11.59" fill="#3181bd"/><rect x="536.31" y="90.11" width="12.45" height="11.59" fill="#2676b8"/><rect x="548.16" y="90.11" width="12.45" height="11.59" fill="#2676b8"/><rect x="560.01" y="90.11" width="12.45" height="11.59" fill="#1c6ab0"/><rect x="571.87" y="90.11" width="12.45" height="11.59" fill="#125da6"/><rect x="583.72" y="90.11" width="12.45" height="11.59" fill="#084e98"/><rect x="595.57" y="90.11" width="12.45" height="11.59" fill="#08306b"/><rect x="607.43" y="90.11" width="12.45" height="11.59" fill="#084e98"/><rect x="619.28" y="90.11" width="12.45" height="11.59" fill="#125da6"/><rect x="631.13" y="90.11" width="12.45" height="11.59" fill="#1c6ab0"/><rect x="642.99" y="90.11" width="12.45" height="11.59" fill="#2676b8"/><rect x="654.84" y="90.11" width="12.45" height="11.59" fill="#2676b8"/><rect x="666.69" y="90.11" width="12.45" height="11.59" fill="#3181bd"/><rect x="678.55" y="90.11" width="11.85" height="11.59" fill="#3383be"/><rect x="512.60" y="101.09" width="12.45" height="11.59" fill="#3d8dc4"/><rect x="524.45" y="101.09" width="12.45" height="11.59" fill="#3a8ac2"/><rect x="536.31" y="101.09" width="12.45" height="11.59" fill="#2e7ebc"/><rect x="548.16" y="101.09" width="12.45" height="11.59" fill="#2e7ebc"/><rect x="560.01" y="101.09" width="12.45" height="11.59" fill="#2b7bba"/><rect x="571.87" y="101.09" width="12.45" height="11.59" fill="#2070b4"/><rect x="583.72" y="101.09" width="12.45" height="11.59" fill="#1764ab"/><rect x="595.57" y="101.09" width="12.45" height="11.59" fill="#1561a9"/><rect x="607.43" y="101.09" width="12.45" height="11.59" fill="#1764ab"/><rect x="619.28" y="101.09" width="12.45" height="11.59" fill="#2070b4"/><rect x="631.13" y="101.09" width="12.45" height="11.59" fill="#2b7bba"/><rect x="642.99" y="101.09" width="12.45" height="11.59" fill="#2e7ebc"/><rect x="654.84" y="101.09" width="12.45" height="11.59" fill="#2e7ebc"/><rect x="666.69" y="101.09" width="12.45" height="11.59" fill="#3a8ac2"/><rect x="678.55" y="101.09" width="11.85" height="11.59" fill="#3d8dc4"/><rect x="512.60" y="112.08" width="12.45" height="11.59" fill="#4e9acb"/><rect x="524.45" y="112.08" width="12.45" height="11.59" fill="#4896c8"/><rect x="536.31" y="112.08" width="12.45" height="11.59" fill="#4292c6"/><rect x="548.16" y="112.08" width="12.45" height="11.59" fill="#3d8dc4"/><rect x="560.01" y="112.08" width="12.45" height="11.59" fill="#3a8ac2"/><rect x="571.87" y="112.08" width="12.45" height="11.59" fill="#3585bf"/><rect x="583.72" y="112.08" width="12.45" height="11.59" fill="#2e7ebc"/><rect x="595.57" y="112.08" width="12.45" height="11.59" fill="#2e7ebc"/><rect x="607.43" y="112.08" width="12.45" height="11.59" fill="#2e7ebc"/><rect x="619.28" y="112.08" width="12.45" height="11.59" fill="#3585bf"/><rect x="631.13" y="112.08" width="12.45" height="11.59" fill="#3a8ac2"/><rect x="642.99" y="112.08" width="12.45" height="11.59" fill="#3d8dc4"/><rect x="654.84" y="112.08" width="12.45" height="11.59" fill="#4292c6"/><rect x="666.69" y="112.08" width="12.45" height="11.59" fill="#4896c8"/><rect x="678.55" y="112.08" width="11.85" height="11.59" fill="#4e9acb"/><rect x="512.60" y="123.07" width="12.45" height="11.59" fill="#64a9d3"/><rect x="524.45" y="123.07" width="12.45" height="11.59" fill="#64a9d3"/><rect x="536.31" y="123.07" width="12.45" height="11.59" fill="#57a0ce"/><rect x="548.16" y="123.07" width="12.45" height="11.59" fill="#56a0ce"/><rect x="560.01" y="123.07" width="12.45" height="11.59" fill="#519ccc"/><rect x="571.87" y="123.07" width="12.45" height="11.59" fill="#519ccc"/><rect x="583.72" y="123.07" width="12.45" height="11.59" fill="#4594c7"/><rect x="595.57" y="123.07" width="12.45" height="11.59" fill="#519ccc"/><rect x="607.43" y="123.07" width="12.45" height="11.59" fill="#4594c7"/><rect x="619.28" y="123.07" width="12.45" height="11.59" fill="#519ccc"/><rect x="631.13" y="123.07" width="12.45" height="11.59" fill="#519ccc"/><rect x="642.99" y="123.07" width="12.45" height="11.59" fill="#56a0ce"/><rect x="654.84" y="123.07" width="12.45" height="11.59" fill="#57a0ce"/><rect x="666.69" y="123.07" width="12.45" height="11.59" fill="#64a9d3"/><rect x="678.55" y="123.07" width="11.85" height="11.59" fill="#64a9d3"/><rect x="512.60" y="134.05" width="12.45" height="11.59" fill="#84bcdb"/><rect x="524.45" y="134.05" width="12.45" height="11.59" fill="#7ab6d9"/><rect x="536.31" y="134.05" width="12.45" height="11.59" fill="#79b5d9"/><rect x="548.16" y="134.05" width="12.45" height="11.59" fill="#74b3d8"/><rect x="560.01" y="134.05" width="12.45" height="11.59" fill="#6fb0d7"/><rect x="571.87" y="134.05" width="12.45" height="11.59" fill="#68acd5"/><rect x="583.72" y="134.05" width="12.45" height="11.59" fill="#63a8d3"/><rect x="595.57" y="134.05" width="12.45" height="11.59" fill="#6aaed6"/><rect x="607.43" y="134.05" width="12.45" height="11.59" fill="#63a8d3"/><rect x="619.28" y="134.05" width="12.45" height="11.59" fill="#6aaed6"/><rect x="631.13" y="134.05" width="12.45" height="11.59" fill="#6fb0d7"/><rect x="642.99" y="134.05" width="12.45" height="11.59" fill="#74b3d8"/><rect x="654.84" y="134.05" width="12.45" height="11.59" fill="#79b5d9"/><rect x="666.69" y="134.05" width="12.45" height="11.59" fill="#7ab6d9"/><rect x="678.55" y="134.05" width="11.85" height="11.59" fill="#84bcdb"/><rect x="512.60" y="145.04" width="12.45" height="11.59" fill="#bfd8ed"/><rect x="524.45" y="145.04" width="12.45" height="11.59" fill="#b0d2e7"/><rect x="536.31" y="145.04" width="12.45" height="11.59" fill="#a6cee4"/><rect x="548.16" y="145.04" width="12.45" height="11.59" fill="#a0cbe2"/><rect x="560.01" y="145.04" width="12.45" height="11.59" fill="#92c4de"/><rect x="571.87" y="145.04" width="12.45" height="11.59" fill="#85bcdc"/><rect x="583.72" y="145.04" width="12.45" height="11.59" fill="#7db8da"/><rect x="595.57" y="145.04" width="12.45" height="11.59" fill="#8cc0dd"/><rect x="607.43" y="145.04" width="12.45" height="11.59" fill="#7db8da"/><rect x="619.28" y="145.04" width="12.45" height="11.59" fill="#85bcdc"/><rect x="631.13" y="145.04" width="12.45" height="11.59" fill="#92c4de"/><rect x="642.99" y="145.04" width="12.45" height="11.59" fill="#a0cbe2"/><rect x="654.84" y="145.04" width="12.45" height="11.59" fill="#a6cee4"/><rect x="666.69" y="145.04" width="12.45" height="11.59" fill="#b0d2e7"/><rect x="678.55" y="145.04" width="11.85" height="11.59" fill="#bfd8ed"/><rect x="512.60" y="156.03" width="12.45" height="11.59" fill="#e0ecf8"/><rect x="524.45" y="156.03" width="12.45" height="11.59" fill="#d6e6f4"/><rect x="536.31" y="156.03" width="12.45" height="11.59" fill="#d6e6f4"/><rect x="548.16" y="156.03" width="12.45" height="11.59" fill="#d0e1f2"/><rect x="560.01" y="156.03" width="12.45" height="11.59" fill="#d0e1f2"/><rect x="571.87" y="156.03" width="12.45" height="11.59" fill="#c6dbef"/><rect x="583.72" y="156.03" width="12.45" height="11.59" fill="#bcd7eb"/><rect x="595.57" y="156.03" width="12.45" height="11.59" fill="#c6dbef"/><rect x="607.43" y="156.03" width="12.45" height="11.59" fill="#b7d4ea"/><rect x="619.28" y="156.03" width="12.45" height="11.59" fill="#c6dbef"/><rect x="631.13" y="156.03" width="12.45" height="11.59" fill="#d0e1f2"/><rect x="642.99" y="156.03" width="12.45" height="11.59" fill="#d6e6f4"/><rect x="654.84" y="156.03" width="12.45" height="11.59" fill="#d0e1f2"/><rect x="666.69" y="156.03" width="12.45" height="11.59" fill="#d6e6f4"/><rect x="678.55" y="156.03" width="11.85" height="11.59" fill="#e0ecf8"/><rect x="512.60" y="167.01" width="12.45" height="10.29" fill="#f3f8fe"/><rect x="524.45" y="167.01" width="12.45" height="10.29" fill="#eff6fc"/><rect x="536.31" y="167.01" width="12.45" height="10.29" fill="#eaf2fb"/><rect x="548.16" y="167.01" width="12.45" height="10.29" fill="#e6f0f9"/><rect x="560.01" y="167.01" width="12.45" height="10.29" fill="#e4eff9"/><rect x="571.87" y="167.01" width="12.45" height="10.29" fill="#e1edf8"/><rect x="583.72" y="167.01" width="12.45" height="10.29" fill="#e1edf8"/><rect x="595.57" y="167.01" width="12.45" height="10.29" fill="#e4eff9"/><rect x="607.43" y="167.01" width="12.45" height="10.29" fill="#e1edf8"/><rect x="619.28" y="167.01" width="12.45" height="10.29" fill="#e4eff9"/><rect x="631.13" y="167.01" width="12.45" height="10.29" fill="#e4eff9"/><rect x="642.99" y="167.01" width="12.45" height="10.29" fill="#e6f0f9"/><rect x="654.84" y="167.01" width="12.45" height="10.29" fill="#eaf2fb"/><rect x="666.69" y="167.01" width="12.45" height="10.29" fill="#eff6fc"/><rect x="678.55" y="167.01" width="11.85" height="10.29" fill="#f3f8fe"/></g>
<g fill="#fff"><rect x="523.95" y="12.50" width="1" height="164.80" opacity="0.77"/><rect x="535.81" y="12.50" width="1" height="164.80" opacity="0.50"/><rect x="547.66" y="12.50" width="1" height="164.80" opacity="0.77"/><rect x="559.51" y="12.50" width="1" height="164.80" opacity="0.39"/><rect x="571.37" y="12.50" width="1" height="164.80" opacity="0.50"/><rect x="583.22" y="12.50" width="1" height="164.80" opacity="0.55"/><rect x="595.07" y="12.50" width="1" height="164.80" opacity="0.28"/><rect x="606.93" y="12.50" width="1" height="164.80" opacity="0.77"/><rect x="618.78" y="12.50" width="1" height="164.80" opacity="0.28"/><rect x="630.63" y="12.50" width="1" height="164.80" opacity="0.77"/><rect x="642.49" y="12.50" width="1" height="164.80" opacity="0.28"/><rect x="654.34" y="12.50" width="1" height="164.80" opacity="0.77"/><rect x="666.19" y="12.50" width="1" height="164.80" opacity="0.28"/><rect x="678.05" y="12.50" width="1" height="164.80" opacity="0.77"/></g>
<path d="M512.10,12.40H690.90M512.10,177.20H690.90" stroke="#7c8086" stroke-width="1.35" fill="none"/>
<path d="M512.60,11.90V177.80M690.40,11.90V177.80" stroke="#4a4e55" stroke-width="1" fill="none"/>
<path d="M512.60,177.30v2.6 M512.60,177.30h-2.6 M542.23,177.30v2.6 M512.60,149.83h-2.6 M571.87,177.30v2.6 M512.60,122.37h-2.6 M601.50,177.30v2.6 M512.60,94.90h-2.6 M631.13,177.30v2.6 M512.60,67.43h-2.6 M660.77,177.30v2.6 M512.60,39.97h-2.6 M690.40,177.30v2.6 M512.60,12.50h-2.6" stroke="#4a4e55" stroke-width="1" fill="none"/>
<g shape-rendering="crispEdges"><rect x="56.60" y="198.40" width="12.45" height="12.29" fill="#dce9f6"/><rect x="68.45" y="198.40" width="12.45" height="12.29" fill="#dce9f6"/><rect x="80.29" y="198.40" width="12.45" height="12.29" fill="#d9e8f5"/><rect x="92.14" y="198.40" width="12.45" height="12.29" fill="#d6e6f4"/><rect x="103.99" y="198.40" width="12.45" height="12.29" fill="#d0e1f2"/><rect x="115.83" y="198.40" width="12.45" height="12.29" fill="#c8dcf0"/><rect x="127.68" y="198.40" width="12.45" height="12.29" fill="#d6e6f4"/><rect x="139.53" y="198.40" width="12.45" height="12.29" fill="#d6e5f4"/><rect x="151.37" y="198.40" width="12.45" height="12.29" fill="#d6e6f4"/><rect x="163.22" y="198.40" width="12.45" height="12.29" fill="#c8dcf0"/><rect x="175.07" y="198.40" width="12.45" height="12.29" fill="#d0e1f2"/><rect x="186.91" y="198.40" width="12.45" height="12.29" fill="#d6e6f4"/><rect x="198.76" y="198.40" width="12.45" height="12.29" fill="#d9e8f5"/><rect x="210.61" y="198.40" width="12.45" height="12.29" fill="#dce9f6"/><rect x="222.45" y="198.40" width="11.85" height="12.29" fill="#dce9f6"/><rect x="56.60" y="210.09" width="12.45" height="11.59" fill="#dce9f6"/><rect x="68.45" y="210.09" width="12.45" height="11.59" fill="#d6e6f4"/><rect x="80.29" y="210.09" width="12.45" height="11.59" fill="#d0e1f2"/><rect x="92.14" y="210.09" width="12.45" height="11.59" fill="#d6e6f4"/><rect x="103.99" y="210.09" width="12.45" height="11.59" fill="#d0e1f2"/><rect x="115.83" y="210.09" width="12.45" height="11.59" fill="#c8dcf0"/><rect x="127.68" y="210.09" width="12.45" height="11.59" fill="#d0e1f2"/><rect x="139.53" y="210.09" width="12.45" height="11.59" fill="#d8e7f5"/><rect x="151.37" y="210.09" width="12.45" height="11.59" fill="#d0e1f2"/><rect x="163.22" y="210.09" width="12.45" height="11.59" fill="#c8dcf0"/><rect x="175.07" y="210.09" width="12.45" height="11.59" fill="#d0e1f2"/><rect x="186.91" y="210.09" width="12.45" height="11.59" fill="#d6e6f4"/><rect x="198.76" y="210.09" width="12.45" height="11.59" fill="#d0e1f2"/><rect x="210.61" y="210.09" width="12.45" height="11.59" fill="#d6e6f4"/><rect x="222.45" y="210.09" width="11.85" height="11.59" fill="#dce9f6"/><rect x="56.60" y="221.09" width="12.45" height="11.59" fill="#e0ecf8"/><rect x="68.45" y="221.09" width="12.45" height="11.59" fill="#d9e8f5"/><rect x="80.29" y="221.09" width="12.45" height="11.59" fill="#d0e1f2"/><rect x="92.14" y="221.09" width="12.45" height="11.59" fill="#d6e6f4"/><rect x="103.99" y="221.09" width="12.45" height="11.59" fill="#d0e1f2"/><rect x="115.83" y="221.09" width="12.45" height="11.59" fill="#c6dbef"/><rect x="127.68" y="221.09" width="12.45" height="11.59" fill="#bcd7eb"/><rect x="139.53" y="221.09" width="12.45" height="11.59" fill="#d0e1f2"/><rect x="151.37" y="221.09" width="12.45" height="11.59" fill="#c2d9ee"/><rect x="163.22" y="221.09" width="12.45" height="11.59" fill="#c6dbef"/><rect x="175.07" y="221.09" width="12.45" height="11.59" fill="#d0e1f2"/><rect x="186.91" y="221.09" width="12.45" height="11.59" fill="#d6e6f4"/><rect x="198.76" y="221.09" width="12.45" height="11.59" fill="#d0e1f2"/><rect x="210.61" y="221.09" width="12.45" height="11.59" fill="#d9e8f5"/><rect x="222.45" y="221.09" width="11.85" height="11.59" fill="#e0ecf8"/><rect x="56.60" y="232.08" width="12.45" height="11.59" fill="#d8e7f5"/><rect x="68.45" y="232.08" width="12.45" height="11.59" fill="#e0ecf8"/><rect x="80.29" y="232.08" width="12.45" height="11.59" fill="#e8f1fa"/><rect x="92.14" y="232.08" width="12.45" height="11.59" fill="#e0ecf8"/><rect x="103.99" y="232.08" width="12.45" height="11.59" fill="#d8e7f5"/><rect x="115.83" y="232.08" width="12.45" height="11.59" fill="#d6e6f4"/><rect x="127.68" y="232.08" width="12.45" height="11.59" fill="#d0e1f2"/><rect x="139.53" y="232.08" width="12.45" height="11.59" fill="#bcd7eb"/><rect x="151.37" y="232.08" width="12.45" height="11.59" fill="#d0e1f2"/><rect x="163.22" y="232.08" width="12.45" height="11.59" fill="#d5e5f4"/><rect x="175.07" y="232.08" width="12.45" height="11.59" fill="#d8e7f5"/><rect x="186.91" y="232.08" width="12.45" height="11.59" fill="#e0ecf8"/><rect x="198.76" y="232.08" width="12.45" height="11.59" fill="#e4eff9"/><rect x="210.61" y="232.08" width="12.45" height="11.59" fill="#e0ecf8"/><rect x="222.45" y="232.08" width="11.85" height="11.59" fill="#d8e7f5"/><rect x="56.60" y="243.07" width="12.45" height="11.59" fill="#e0ecf8"/><rect x="68.45" y="243.07" width="12.45" height="11.59" fill="#e0ecf8"/><rect x="80.29" y="243.07" width="12.45" height="11.59" fill="#f2f7fd"/><rect x="92.14" y="243.07" width="12.45" height="11.59" fill="#e9f2fa"/><rect x="103.99" y="243.07" width="12.45" height="11.59" fill="#deebf7"/><rect x="115.83" y="243.07" width="12.45" height="11.59" fill="#deebf7"/><rect x="127.68" y="243.07" width="12.45" height="11.59" fill="#d8e7f5"/><rect x="139.53" y="243.07" width="12.45" height="11.59" fill="#c6dbef"/><rect x="151.37" y="243.07" width="12.45" height="11.59" fill="#d8e7f5"/><rect x="163.22" y="243.07" width="12.45" height="11.59" fill="#deebf7"/><rect x="175.07" y="243.07" width="12.45" height="11.59" fill="#ddeaf7"/><rect x="186.91" y="243.07" width="12.45" height="11.59" fill="#e8f1fa"/><rect x="198.76" y="243.07" width="12.45" height="11.59" fill="#f0f6fd"/><rect x="210.61" y="243.07" width="12.45" height="11.59" fill="#e0ecf8"/><rect x="222.45" y="243.07" width="11.85" height="11.59" fill="#e0ecf8"/><rect x="56.60" y="254.07" width="12.45" height="11.59" fill="#eff6fc"/><rect x="68.45" y="254.07" width="12.45" height="11.59" fill="#e8f1fa"/><rect x="80.29" y="254.07" width="12.45" height="11.59" fill="#eff6fc"/><rect x="92.14" y="254.07" width="12.45" height="11.59" fill="#eff6fc"/><rect x="103.99" y="254.07" width="12.45" height="11.59" fill="#eff6fc"/><rect x="115.83" y="254.07" width="12.45" height="11.59" fill="#ecf4fb"/><rect x="127.68" y="254.07" width="12.45" height="11.59" fill="#e9f2fa"/><rect x="139.53" y="254.07" width="12.45" height="11.59" fill="#c8dcf0"/><rect x="151.37" y="254.07" width="12.45" height="11.59" fill="#e8f1fa"/><rect x="163.22" y="254.07" width="12.45" height="11.59" fill="#ecf4fb"/><rect x="175.07" y="254.07" width="12.45" height="11.59" fill="#eef5fc"/><rect x="186.91" y="254.07" width="12.45" height="11.59" fill="#eef5fc"/><rect x="198.76" y="254.07" width="12.45" height="11.59" fill="#eff6fc"/><rect x="210.61" y="254.07" width="12.45" height="11.59" fill="#e8f1fa"/><rect x="222.45" y="254.07" width="11.85" height="11.59" fill="#eff6fc"/><rect x="56.60" y="265.06" width="12.45" height="11.59" fill="#e9f2fa"/><rect x="68.45" y="265.06" width="12.45" height="11.59" fill="#f2f7fd"/><rect x="80.29" y="265.06" width="12.45" height="11.59" fill="#e0ecf8"/><rect x="92.14" y="265.06" width="12.45" height="11.59" fill="#f2f7fd"/><rect x="103.99" y="265.06" width="12.45" height="11.59" fill="#e8f1fa"/><rect x="115.83" y="265.06" width="12.45" height="11.59" fill="#d9e8f5"/><rect x="127.68" y="265.06" width="12.45" height="11.59" fill="#b4d3e9"/><rect x="139.53" y="265.06" width="12.45" height="11.59" fill="#7fb9da"/><rect x="151.37" y="265.06" width="12.45" height="11.59" fill="#b0d2e7"/><rect x="163.22" y="265.06" width="12.45" height="11.59" fill="#d9e8f5"/><rect x="175.07" y="265.06" width="12.45" height="11.59" fill="#eaf2fb"/><rect x="186.91" y="265.06" width="12.45" height="11.59" fill="#f0f6fd"/><rect x="198.76" y="265.06" width="12.45" height="11.59" fill="#e0ecf8"/><rect x="210.61" y="265.06" width="12.45" height="11.59" fill="#f0f6fd"/><rect x="222.45" y="265.06" width="11.85" height="11.59" fill="#e9f2fa"/><rect x="56.60" y="276.05" width="12.45" height="11.59" fill="#f0f6fd"/><rect x="68.45" y="276.05" width="12.45" height="11.59" fill="#f5f9fe"/><rect x="80.29" y="276.05" width="12.45" height="11.59" fill="#d6e6f4"/><rect x="92.14" y="276.05" width="12.45" height="11.59" fill="#e5eff9"/><rect x="103.99" y="276.05" width="12.45" height="11.59" fill="#c6dbef"/><rect x="115.83" y="276.05" width="12.45" height="11.59" fill="#9ac8e0"/><rect x="127.68" y="276.05" width="12.45" height="11.59" fill="#4090c5"/><rect x="139.53" y="276.05" width="12.45" height="11.59" fill="#08306b"/><rect x="151.37" y="276.05" width="12.45" height="11.59" fill="#4090c5"/><rect x="163.22" y="276.05" width="12.45" height="11.59" fill="#9ac8e0"/><rect x="175.07" y="276.05" width="12.45" height="11.59" fill="#c6dbef"/><rect x="186.91" y="276.05" width="12.45" height="11.59" fill="#e5eff9"/><rect x="198.76" y="276.05" width="12.45" height="11.59" fill="#d6e6f4"/><rect x="210.61" y="276.05" width="12.45" height="11.59" fill="#f5f9fe"/><rect x="222.45" y="276.05" width="11.85" height="11.59" fill="#f0f6fd"/><rect x="56.60" y="287.05" width="12.45" height="11.59" fill="#e9f2fa"/><rect x="68.45" y="287.05" width="12.45" height="11.59" fill="#f0f6fd"/><rect x="80.29" y="287.05" width="12.45" height="11.59" fill="#e0ecf8"/><rect x="92.14" y="287.05" width="12.45" height="11.59" fill="#f0f6fd"/><rect x="103.99" y="287.05" width="12.45" height="11.59" fill="#eaf2fb"/><rect x="115.83" y="287.05" width="12.45" height="11.59" fill="#d9e8f5"/><rect x="127.68" y="287.05" width="12.45" height="11.59" fill="#b0d2e7"/><rect x="139.53" y="287.05" width="12.45" height="11.59" fill="#7fb9da"/><rect x="151.37" y="287.05" width="12.45" height="11.59" fill="#b4d3e9"/><rect x="163.22" y="287.05" width="12.45" height="11.59" fill="#d9e8f5"/><rect x="175.07" y="287.05" width="12.45" height="11.59" fill="#e8f1fa"/><rect x="186.91" y="287.05" width="12.45" height="11.59" fill="#f2f7fd"/><rect x="198.76" y="287.05" width="12.45" height="11.59" fill="#e0ecf8"/><rect x="210.61" y="287.05" width="12.45" height="11.59" fill="#f2f7fd"/><rect x="222.45" y="287.05" width="11.85" height="11.59" fill="#e9f2fa"/><rect x="56.60" y="298.04" width="12.45" height="11.59" fill="#eff6fc"/><rect x="68.45" y="298.04" width="12.45" height="11.59" fill="#e8f1fa"/><rect x="80.29" y="298.04" width="12.45" height="11.59" fill="#eff6fc"/><rect x="92.14" y="298.04" width="12.45" height="11.59" fill="#eef5fc"/><rect x="103.99" y="298.04" width="12.45" height="11.59" fill="#eef5fc"/><rect x="115.83" y="298.04" width="12.45" height="11.59" fill="#ecf4fb"/><rect x="127.68" y="298.04" width="12.45" height="11.59" fill="#e8f1fa"/><rect x="139.53" y="298.04" width="12.45" height="11.59" fill="#c8dcf0"/><rect x="151.37" y="298.04" width="12.45" height="11.59" fill="#e9f2fa"/><rect x="163.22" y="298.04" width="12.45" height="11.59" fill="#ecf4fb"/><rect x="175.07" y="298.04" width="12.45" height="11.59" fill="#eff6fc"/><rect x="186.91" y="298.04" width="12.45" height="11.59" fill="#eff6fc"/><rect x="198.76" y="298.04" width="12.45" height="11.59" fill="#eff6fc"/><rect x="210.61" y="298.04" width="12.45" height="11.59" fill="#e8f1fa"/><rect x="222.45" y="298.04" width="11.85" height="11.59" fill="#eff6fc"/><rect x="56.60" y="309.03" width="12.45" height="11.59" fill="#e0ecf8"/><rect x="68.45" y="309.03" width="12.45" height="11.59" fill="#e0ecf8"/><rect x="80.29" y="309.03" width="12.45" height="11.59" fill="#f0f6fd"/><rect x="92.14" y="309.03" width="12.45" height="11.59" fill="#e8f1fa"/><rect x="103.99" y="309.03" width="12.45" height="11.59" fill="#ddeaf7"/><rect x="115.83" y="309.03" width="12.45" height="11.59" fill="#deebf7"/><rect x="127.68" y="309.03" width="12.45" height="11.59" fill="#d8e7f5"/><rect x="139.53" y="309.03" width="12.45" height="11.59" fill="#c6dbef"/><rect x="151.37" y="309.03" width="12.45" height="11.59" fill="#d8e7f5"/><rect x="163.22" y="309.03" width="12.45" height="11.59" fill="#deebf7"/><rect x="175.07" y="309.03" width="12.45" height="11.59" fill="#deebf7"/><rect x="186.91" y="309.03" width="12.45" height="11.59" fill="#e9f2fa"/><rect x="198.76" y="309.03" width="12.45" height="11.59" fill="#f2f7fd"/><rect x="210.61" y="309.03" width="12.45" height="11.59" fill="#e0ecf8"/><rect x="222.45" y="309.03" width="11.85" height="11.59" fill="#e0ecf8"/><rect x="56.60" y="320.03" width="12.45" height="11.59" fill="#d8e7f5"/><rect x="68.45" y="320.03" width="12.45" height="11.59" fill="#e0ecf8"/><rect x="80.29" y="320.03" width="12.45" height="11.59" fill="#e4eff9"/><rect x="92.14" y="320.03" width="12.45" height="11.59" fill="#e0ecf8"/><rect x="103.99" y="320.03" width="12.45" height="11.59" fill="#d8e7f5"/><rect x="115.83" y="320.03" width="12.45" height="11.59" fill="#d5e5f4"/><rect x="127.68" y="320.03" width="12.45" height="11.59" fill="#d0e1f2"/><rect x="139.53" y="320.03" width="12.45" height="11.59" fill="#bcd7eb"/><rect x="151.37" y="320.03" width="12.45" height="11.59" fill="#d0e1f2"/><rect x="163.22" y="320.03" width="12.45" height="11.59" fill="#d6e6f4"/><rect x="175.07" y="320.03" width="12.45" height="11.59" fill="#d8e7f5"/><rect x="186.91" y="320.03" width="12.45" height="11.59" fill="#e0ecf8"/><rect x="198.76" y="320.03" width="12.45" height="11.59" fill="#e8f1fa"/><rect x="210.61" y="320.03" width="12.45" height="11.59" fill="#e0ecf8"/><rect x="222.45" y="320.03" width="11.85" height="11.59" fill="#d8e7f5"/><rect x="56.60" y="331.02" width="12.45" height="11.59" fill="#e0ecf8"/><rect x="68.45" y="331.02" width="12.45" height="11.59" fill="#d9e8f5"/><rect x="80.29" y="331.02" width="12.45" height="11.59" fill="#d0e1f2"/><rect x="92.14" y="331.02" width="12.45" height="11.59" fill="#d6e6f4"/><rect x="103.99" y="331.02" width="12.45" height="11.59" fill="#d0e1f2"/><rect x="115.83" y="331.02" width="12.45" height="11.59" fill="#c6dbef"/><rect x="127.68" y="331.02" width="12.45" height="11.59" fill="#c2d9ee"/><rect x="139.53" y="331.02" width="12.45" height="11.59" fill="#d0e1f2"/><rect x="151.37" y="331.02" width="12.45" height="11.59" fill="#bcd7eb"/><rect x="163.22" y="331.02" width="12.45" height="11.59" fill="#c6dbef"/><rect x="175.07" y="331.02" width="12.45" height="11.59" fill="#d0e1f2"/><rect x="186.91" y="331.02" width="12.45" height="11.59" fill="#d6e6f4"/><rect x="198.76" y="331.02" width="12.45" height="11.59" fill="#d0e1f2"/><rect x="210.61" y="331.02" width="12.45" height="11.59" fill="#d9e8f5"/><rect x="222.45" y="331.02" width="11.85" height="11.59" fill="#e0ecf8"/><rect x="56.60" y="342.01" width="12.45" height="11.59" fill="#dce9f6"/><rect x="68.45" y="342.01" width="12.45" height="11.59" fill="#d6e6f4"/><rect x="80.29" y="342.01" width="12.45" height="11.59" fill="#d0e1f2"/><rect x="92.14" y="342.01" width="12.45" height="11.59" fill="#d6e6f4"/><rect x="103.99" y="342.01" width="12.45" height="11.59" fill="#d0e1f2"/><rect x="115.83" y="342.01" width="12.45" height="11.59" fill="#c8dcf0"/><rect x="127.68" y="342.01" width="12.45" height="11.59" fill="#d0e1f2"/><rect x="139.53" y="342.01" width="12.45" height="11.59" fill="#d8e7f5"/><rect x="151.37" y="342.01" width="12.45" height="11.59" fill="#d0e1f2"/><rect x="163.22" y="342.01" width="12.45" height="11.59" fill="#c8dcf0"/><rect x="175.07" y="342.01" width="12.45" height="11.59" fill="#d0e1f2"/><rect x="186.91" y="342.01" width="12.45" height="11.59" fill="#d6e6f4"/><rect x="198.76" y="342.01" width="12.45" height="11.59" fill="#d0e1f2"/><rect x="210.61" y="342.01" width="12.45" height="11.59" fill="#d6e6f4"/><rect x="222.45" y="342.01" width="11.85" height="11.59" fill="#dce9f6"/><rect x="56.60" y="353.01" width="12.45" height="10.29" fill="#dce9f6"/><rect x="68.45" y="353.01" width="12.45" height="10.29" fill="#dce9f6"/><rect x="80.29" y="353.01" width="12.45" height="10.29" fill="#d9e8f5"/><rect x="92.14" y="353.01" width="12.45" height="10.29" fill="#d6e6f4"/><rect x="103.99" y="353.01" width="12.45" height="10.29" fill="#d0e1f2"/><rect x="115.83" y="353.01" width="12.45" height="10.29" fill="#c8dcf0"/><rect x="127.68" y="353.01" width="12.45" height="10.29" fill="#d6e6f4"/><rect x="139.53" y="353.01" width="12.45" height="10.29" fill="#d6e5f4"/><rect x="151.37" y="353.01" width="12.45" height="10.29" fill="#d6e6f4"/><rect x="163.22" y="353.01" width="12.45" height="10.29" fill="#c8dcf0"/><rect x="175.07" y="353.01" width="12.45" height="10.29" fill="#d0e1f2"/><rect x="186.91" y="353.01" width="12.45" height="10.29" fill="#d6e6f4"/><rect x="198.76" y="353.01" width="12.45" height="10.29" fill="#d9e8f5"/><rect x="210.61" y="353.01" width="12.45" height="10.29" fill="#dce9f6"/><rect x="222.45" y="353.01" width="11.85" height="10.29" fill="#dce9f6"/></g>
<g fill="#fff"><rect x="67.95" y="198.40" width="1" height="164.90" opacity="0.77"/><rect x="79.79" y="198.40" width="1" height="164.90" opacity="0.50"/><rect x="91.64" y="198.40" width="1" height="164.90" opacity="0.77"/><rect x="103.49" y="198.40" width="1" height="164.90" opacity="0.39"/><rect x="115.33" y="198.40" width="1" height="164.90" opacity="0.50"/><rect x="127.18" y="198.40" width="1" height="164.90" opacity="0.55"/><rect x="139.03" y="198.40" width="1" height="164.90" opacity="0.28"/><rect x="150.87" y="198.40" width="1" height="164.90" opacity="0.77"/><rect x="162.72" y="198.40" width="1" height="164.90" opacity="0.28"/><rect x="174.57" y="198.40" width="1" height="164.90" opacity="0.77"/><rect x="186.41" y="198.40" width="1" height="164.90" opacity="0.28"/><rect x="198.26" y="198.40" width="1" height="164.90" opacity="0.77"/><rect x="210.11" y="198.40" width="1" height="164.90" opacity="0.28"/><rect x="221.95" y="198.40" width="1" height="164.90" opacity="0.77"/></g>
<path d="M56.10,198.30H234.80M56.10,363.20H234.80" stroke="#7c8086" stroke-width="1.35" fill="none"/>
<path d="M56.60,197.80V363.80M234.30,197.80V363.80" stroke="#4a4e55" stroke-width="1" fill="none"/>
<path d="M56.60,363.30v2.6 M56.60,363.30h-2.6 M86.22,363.30v2.6 M56.60,335.82h-2.6 M115.83,363.30v2.6 M56.60,308.33h-2.6 M145.45,363.30v2.6 M56.60,280.85h-2.6 M175.07,363.30v2.6 M56.60,253.37h-2.6 M204.68,363.30v2.6 M56.60,225.88h-2.6 M234.30,363.30v2.6 M56.60,198.40h-2.6" stroke="#4a4e55" stroke-width="1" fill="none"/>
<text x="51.8" y="368.00" text-anchor="end">−30</text>
<text x="51.8" y="340.52" text-anchor="end">−20</text>
<text x="51.8" y="313.03" text-anchor="end">−10</text>
<text x="51.8" y="285.55" text-anchor="end">0</text>
<text x="51.8" y="258.07" text-anchor="end">10</text>
<text x="51.8" y="230.58" text-anchor="end">20</text>
<text x="51.8" y="203.10" text-anchor="end">30</text>
<text transform="translate(22.8,282.05) rotate(-90)" text-anchor="middle">Δelevation [°]</text>
<text x="54.60" y="379.3" text-anchor="middle">−30</text>
<text x="86.92" y="379.3" text-anchor="middle">−20</text>
<text x="116.53" y="379.3" text-anchor="middle">−10</text>
<text x="146.15" y="379.3" text-anchor="middle">0</text>
<text x="175.77" y="379.3" text-anchor="middle">10</text>
<text x="205.38" y="379.3" text-anchor="middle">20</text>
<text x="235.00" y="379.3" text-anchor="middle">30</text>
<text x="145.45" y="397.5" text-anchor="middle">Δazimuth [°]</text>
<g shape-rendering="crispEdges"><rect x="283.70" y="198.40" width="12.46" height="12.29" fill="#e8f1fa"/><rect x="295.56" y="198.40" width="12.46" height="12.29" fill="#e0ecf8"/><rect x="307.42" y="198.40" width="12.46" height="12.29" fill="#eef5fc"/><rect x="319.28" y="198.40" width="12.46" height="12.29" fill="#f1f7fd"/><rect x="331.14" y="198.40" width="12.46" height="12.29" fill="#ebf3fb"/><rect x="343.00" y="198.40" width="12.46" height="12.29" fill="#e0ecf8"/><rect x="354.86" y="198.40" width="12.46" height="12.29" fill="#f3f8fe"/><rect x="366.72" y="198.40" width="12.46" height="12.29" fill="#eaf2fb"/><rect x="378.58" y="198.40" width="12.46" height="12.29" fill="#f3f8fe"/><rect x="390.44" y="198.40" width="12.46" height="12.29" fill="#e0ecf8"/><rect x="402.30" y="198.40" width="12.46" height="12.29" fill="#e5eff9"/><rect x="414.16" y="198.40" width="12.46" height="12.29" fill="#f3f8fe"/><rect x="426.02" y="198.40" width="12.46" height="12.29" fill="#eef5fc"/><rect x="437.88" y="198.40" width="12.46" height="12.29" fill="#e8f1fa"/><rect x="449.74" y="198.40" width="11.86" height="12.29" fill="#e8f1fa"/><rect x="283.70" y="210.09" width="12.46" height="11.59" fill="#e1edf8"/><rect x="295.56" y="210.09" width="12.46" height="11.59" fill="#e8f1fa"/><rect x="307.42" y="210.09" width="12.46" height="11.59" fill="#e5eff9"/><rect x="319.28" y="210.09" width="12.46" height="11.59" fill="#e5eff9"/><rect x="331.14" y="210.09" width="12.46" height="11.59" fill="#eaf2fb"/><rect x="343.00" y="210.09" width="12.46" height="11.59" fill="#e6f0f9"/><rect x="354.86" y="210.09" width="12.46" height="11.59" fill="#e4eff9"/><rect x="366.72" y="210.09" width="12.46" height="11.59" fill="#eaf2fb"/><rect x="378.58" y="210.09" width="12.46" height="11.59" fill="#e6f0f9"/><rect x="390.44" y="210.09" width="12.46" height="11.59" fill="#e3eef8"/><rect x="402.30" y="210.09" width="12.46" height="11.59" fill="#eaf2fb"/><rect x="414.16" y="210.09" width="12.46" height="11.59" fill="#e5eff9"/><rect x="426.02" y="210.09" width="12.46" height="11.59" fill="#eaf2fb"/><rect x="437.88" y="210.09" width="12.46" height="11.59" fill="#e6f0f9"/><rect x="449.74" y="210.09" width="11.86" height="11.59" fill="#e1edf8"/><rect x="283.70" y="221.09" width="12.46" height="11.59" fill="#dceaf6"/><rect x="295.56" y="221.09" width="12.46" height="11.59" fill="#d6e5f4"/><rect x="307.42" y="221.09" width="12.46" height="11.59" fill="#dceaf6"/><rect x="319.28" y="221.09" width="12.46" height="11.59" fill="#dceaf6"/><rect x="331.14" y="221.09" width="12.46" height="11.59" fill="#d8e7f5"/><rect x="343.00" y="221.09" width="12.46" height="11.59" fill="#d3e3f3"/><rect x="354.86" y="221.09" width="12.46" height="11.59" fill="#d0e1f2"/><rect x="366.72" y="221.09" width="12.46" height="11.59" fill="#e6f0f9"/><rect x="378.58" y="221.09" width="12.46" height="11.59" fill="#d3e3f3"/><rect x="390.44" y="221.09" width="12.46" height="11.59" fill="#d3e3f3"/><rect x="402.30" y="221.09" width="12.46" height="11.59" fill="#d8e7f5"/><rect x="414.16" y="221.09" width="12.46" height="11.59" fill="#dceaf6"/><rect x="426.02" y="221.09" width="12.46" height="11.59" fill="#d8e7f5"/><rect x="437.88" y="221.09" width="12.46" height="11.59" fill="#d6e5f4"/><rect x="449.74" y="221.09" width="11.86" height="11.59" fill="#dceaf6"/><rect x="283.70" y="232.08" width="12.46" height="11.59" fill="#d8e7f5"/><rect x="295.56" y="232.08" width="12.46" height="11.59" fill="#c7dbef"/><rect x="307.42" y="232.08" width="12.46" height="11.59" fill="#cadef0"/><rect x="319.28" y="232.08" width="12.46" height="11.59" fill="#d8e7f5"/><rect x="331.14" y="232.08" width="12.46" height="11.59" fill="#cbdef1"/><rect x="343.00" y="232.08" width="12.46" height="11.59" fill="#d3e3f3"/><rect x="354.86" y="232.08" width="12.46" height="11.59" fill="#d4e4f4"/><rect x="366.72" y="232.08" width="12.46" height="11.59" fill="#d3e3f3"/><rect x="378.58" y="232.08" width="12.46" height="11.59" fill="#ccdff1"/><rect x="390.44" y="232.08" width="12.46" height="11.59" fill="#d4e4f4"/><rect x="402.30" y="232.08" width="12.46" height="11.59" fill="#cbdef1"/><rect x="414.16" y="232.08" width="12.46" height="11.59" fill="#d6e5f4"/><rect x="426.02" y="232.08" width="12.46" height="11.59" fill="#d3e3f3"/><rect x="437.88" y="232.08" width="12.46" height="11.59" fill="#c7dbef"/><rect x="449.74" y="232.08" width="11.86" height="11.59" fill="#d8e7f5"/><rect x="283.70" y="243.07" width="12.46" height="11.59" fill="#ccdff1"/><rect x="295.56" y="243.07" width="12.46" height="11.59" fill="#ccdff1"/><rect x="307.42" y="243.07" width="12.46" height="11.59" fill="#d6e5f4"/><rect x="319.28" y="243.07" width="12.46" height="11.59" fill="#d8e7f5"/><rect x="331.14" y="243.07" width="12.46" height="11.59" fill="#ccdff1"/><rect x="343.00" y="243.07" width="12.46" height="11.59" fill="#d3e3f3"/><rect x="354.86" y="243.07" width="12.46" height="11.59" fill="#d7e6f5"/><rect x="366.72" y="243.07" width="12.46" height="11.59" fill="#d3e3f3"/><rect x="378.58" y="243.07" width="12.46" height="11.59" fill="#d6e5f4"/><rect x="390.44" y="243.07" width="12.46" height="11.59" fill="#d3e3f3"/><rect x="402.30" y="243.07" width="12.46" height="11.59" fill="#cbdef1"/><rect x="414.16" y="243.07" width="12.46" height="11.59" fill="#d8e7f5"/><rect x="426.02" y="243.07" width="12.46" height="11.59" fill="#d6e5f4"/><rect x="437.88" y="243.07" width="12.46" height="11.59" fill="#ccdff1"/><rect x="449.74" y="243.07" width="11.86" height="11.59" fill="#d3e3f3"/><rect x="283.70" y="254.07" width="12.46" height="11.59" fill="#d8e7f5"/><rect x="295.56" y="254.07" width="12.46" height="11.59" fill="#d6e5f4"/><rect x="307.42" y="254.07" width="12.46" height="11.59" fill="#d8e7f5"/><rect x="319.28" y="254.07" width="12.46" height="11.59" fill="#d6e5f4"/><rect x="331.14" y="254.07" width="12.46" height="11.59" fill="#d3e3f3"/><rect x="343.00" y="254.07" width="12.46" height="11.59" fill="#d4e4f4"/><rect x="354.86" y="254.07" width="12.46" height="11.59" fill="#d3e3f3"/><rect x="366.72" y="254.07" width="12.46" height="11.59" fill="#cbdef1"/><rect x="378.58" y="254.07" width="12.46" height="11.59" fill="#d3e3f3"/><rect x="390.44" y="254.07" width="12.46" height="11.59" fill="#d4e4f4"/><rect x="402.30" y="254.07" width="12.46" height="11.59" fill="#d3e3f3"/><rect x="414.16" y="254.07" width="12.46" height="11.59" fill="#d6e5f4"/><rect x="426.02" y="254.07" width="12.46" height="11.59" fill="#d8e7f5"/><rect x="437.88" y="254.07" width="12.46" height="11.59" fill="#d6e5f4"/><rect x="449.74" y="254.07" width="11.86" height="11.59" fill="#d8e7f5"/><rect x="283.70" y="265.06" width="12.46" height="11.59" fill="#dce9f6"/><rect x="295.56" y="265.06" width="12.46" height="11.59" fill="#d0e1f2"/><rect x="307.42" y="265.06" width="12.46" height="11.59" fill="#d0e1f2"/><rect x="319.28" y="265.06" width="12.46" height="11.59" fill="#c6dbef"/><rect x="331.14" y="265.06" width="12.46" height="11.59" fill="#c2d9ee"/><rect x="343.00" y="265.06" width="12.46" height="11.59" fill="#b0d2e7"/><rect x="354.86" y="265.06" width="12.46" height="11.59" fill="#63a8d3"/><rect x="366.72" y="265.06" width="12.46" height="11.59" fill="#69add5"/><rect x="378.58" y="265.06" width="12.46" height="11.59" fill="#63a8d3"/><rect x="390.44" y="265.06" width="12.46" height="11.59" fill="#abd0e6"/><rect x="402.30" y="265.06" width="12.46" height="11.59" fill="#c4daee"/><rect x="414.16" y="265.06" width="12.46" height="11.59" fill="#c6dbef"/><rect x="426.02" y="265.06" width="12.46" height="11.59" fill="#d0e1f2"/><rect x="437.88" y="265.06" width="12.46" height="11.59" fill="#cfe1f2"/><rect x="449.74" y="265.06" width="11.86" height="11.59" fill="#dce9f6"/><rect x="283.70" y="276.05" width="12.46" height="11.59" fill="#cfe1f2"/><rect x="295.56" y="276.05" width="12.46" height="11.59" fill="#a4cce3"/><rect x="307.42" y="276.05" width="12.46" height="11.59" fill="#a4cce3"/><rect x="319.28" y="276.05" width="12.46" height="11.59" fill="#94c4df"/><rect x="331.14" y="276.05" width="12.46" height="11.59" fill="#8dc1dd"/><rect x="343.00" y="276.05" width="12.46" height="11.59" fill="#6aaed6"/><rect x="354.86" y="276.05" width="12.46" height="11.59" fill="#1764ab"/><rect x="366.72" y="276.05" width="12.46" height="11.59" fill="#08306b"/><rect x="378.58" y="276.05" width="12.46" height="11.59" fill="#1764ab"/><rect x="390.44" y="276.05" width="12.46" height="11.59" fill="#6aaed6"/><rect x="402.30" y="276.05" width="12.46" height="11.59" fill="#8dc1dd"/><rect x="414.16" y="276.05" width="12.46" height="11.59" fill="#94c4df"/><rect x="426.02" y="276.05" width="12.46" height="11.59" fill="#a4cce3"/><rect x="437.88" y="276.05" width="12.46" height="11.59" fill="#a4cce3"/><rect x="449.74" y="276.05" width="11.86" height="11.59" fill="#cfe1f2"/><rect x="283.70" y="287.05" width="12.46" height="11.59" fill="#dce9f6"/><rect x="295.56" y="287.05" width="12.46" height="11.59" fill="#cfe1f2"/><rect x="307.42" y="287.05" width="12.46" height="11.59" fill="#d0e1f2"/><rect x="319.28" y="287.05" width="12.46" height="11.59" fill="#c6dbef"/><rect x="331.14" y="287.05" width="12.46" height="11.59" fill="#c4daee"/><rect x="343.00" y="287.05" width="12.46" height="11.59" fill="#abd0e6"/><rect x="354.86" y="287.05" width="12.46" height="11.59" fill="#63a8d3"/><rect x="366.72" y="287.05" width="12.46" height="11.59" fill="#69add5"/><rect x="378.58" y="287.05" width="12.46" height="11.59" fill="#63a8d3"/><rect x="390.44" y="287.05" width="12.46" height="11.59" fill="#b0d2e7"/><rect x="402.30" y="287.05" width="12.46" height="11.59" fill="#c2d9ee"/><rect x="414.16" y="287.05" width="12.46" height="11.59" fill="#c6dbef"/><rect x="426.02" y="287.05" width="12.46" height="11.59" fill="#d0e1f2"/><rect x="437.88" y="287.05" width="12.46" height="11.59" fill="#d0e1f2"/><rect x="449.74" y="287.05" width="11.86" height="11.59" fill="#dce9f6"/><rect x="283.70" y="298.04" width="12.46" height="11.59" fill="#d8e7f5"/><rect x="295.56" y="298.04" width="12.46" height="11.59" fill="#d6e5f4"/><rect x="307.42" y="298.04" width="12.46" height="11.59" fill="#d8e7f5"/><rect x="319.28" y="298.04" width="12.46" height="11.59" fill="#d6e5f4"/><rect x="331.14" y="298.04" width="12.46" height="11.59" fill="#d3e3f3"/><rect x="343.00" y="298.04" width="12.46" height="11.59" fill="#d4e4f4"/><rect x="354.86" y="298.04" width="12.46" height="11.59" fill="#d3e3f3"/><rect x="366.72" y="298.04" width="12.46" height="11.59" fill="#cbdef1"/><rect x="378.58" y="298.04" width="12.46" height="11.59" fill="#d3e3f3"/><rect x="390.44" y="298.04" width="12.46" height="11.59" fill="#d4e4f4"/><rect x="402.30" y="298.04" width="12.46" height="11.59" fill="#d3e3f3"/><rect x="414.16" y="298.04" width="12.46" height="11.59" fill="#d6e5f4"/><rect x="426.02" y="298.04" width="12.46" height="11.59" fill="#d8e7f5"/><rect x="437.88" y="298.04" width="12.46" height="11.59" fill="#d6e5f4"/><rect x="449.74" y="298.04" width="11.86" height="11.59" fill="#d8e7f5"/><rect x="283.70" y="309.03" width="12.46" height="11.59" fill="#d3e3f3"/><rect x="295.56" y="309.03" width="12.46" height="11.59" fill="#ccdff1"/><rect x="307.42" y="309.03" width="12.46" height="11.59" fill="#d6e5f4"/><rect x="319.28" y="309.03" width="12.46" height="11.59" fill="#d8e7f5"/><rect x="331.14" y="309.03" width="12.46" height="11.59" fill="#cbdef1"/><rect x="343.00" y="309.03" width="12.46" height="11.59" fill="#d3e3f3"/><rect x="354.86" y="309.03" width="12.46" height="11.59" fill="#d6e5f4"/><rect x="366.72" y="309.03" width="12.46" height="11.59" fill="#d3e3f3"/><rect x="378.58" y="309.03" width="12.46" height="11.59" fill="#d7e6f5"/><rect x="390.44" y="309.03" width="12.46" height="11.59" fill="#d3e3f3"/><rect x="402.30" y="309.03" width="12.46" height="11.59" fill="#ccdff1"/><rect x="414.16" y="309.03" width="12.46" height="11.59" fill="#d8e7f5"/><rect x="426.02" y="309.03" width="12.46" height="11.59" fill="#d6e5f4"/><rect x="437.88" y="309.03" width="12.46" height="11.59" fill="#ccdff1"/><rect x="449.74" y="309.03" width="11.86" height="11.59" fill="#ccdff1"/><rect x="283.70" y="320.03" width="12.46" height="11.59" fill="#d8e7f5"/><rect x="295.56" y="320.03" width="12.46" height="11.59" fill="#c7dbef"/><rect x="307.42" y="320.03" width="12.46" height="11.59" fill="#d3e3f3"/><rect x="319.28" y="320.03" width="12.46" height="11.59" fill="#d6e5f4"/><rect x="331.14" y="320.03" width="12.46" height="11.59" fill="#cbdef1"/><rect x="343.00" y="320.03" width="12.46" height="11.59" fill="#d4e4f4"/><rect x="354.86" y="320.03" width="12.46" height="11.59" fill="#ccdff1"/><rect x="366.72" y="320.03" width="12.46" height="11.59" fill="#d3e3f3"/><rect x="378.58" y="320.03" width="12.46" height="11.59" fill="#d4e4f4"/><rect x="390.44" y="320.03" width="12.46" height="11.59" fill="#d3e3f3"/><rect x="402.30" y="320.03" width="12.46" height="11.59" fill="#cbdef1"/><rect x="414.16" y="320.03" width="12.46" height="11.59" fill="#d8e7f5"/><rect x="426.02" y="320.03" width="12.46" height="11.59" fill="#cadef0"/><rect x="437.88" y="320.03" width="12.46" height="11.59" fill="#c7dbef"/><rect x="449.74" y="320.03" width="11.86" height="11.59" fill="#d8e7f5"/><rect x="283.70" y="331.02" width="12.46" height="11.59" fill="#dceaf6"/><rect x="295.56" y="331.02" width="12.46" height="11.59" fill="#d6e5f4"/><rect x="307.42" y="331.02" width="12.46" height="11.59" fill="#d8e7f5"/><rect x="319.28" y="331.02" width="12.46" height="11.59" fill="#dceaf6"/><rect x="331.14" y="331.02" width="12.46" height="11.59" fill="#d8e7f5"/><rect x="343.00" y="331.02" width="12.46" height="11.59" fill="#d3e3f3"/><rect x="354.86" y="331.02" width="12.46" height="11.59" fill="#d3e3f3"/><rect x="366.72" y="331.02" width="12.46" height="11.59" fill="#e6f0f9"/><rect x="378.58" y="331.02" width="12.46" height="11.59" fill="#d0e1f2"/><rect x="390.44" y="331.02" width="12.46" height="11.59" fill="#d3e3f3"/><rect x="402.30" y="331.02" width="12.46" height="11.59" fill="#d8e7f5"/><rect x="414.16" y="331.02" width="12.46" height="11.59" fill="#dceaf6"/><rect x="426.02" y="331.02" width="12.46" height="11.59" fill="#dceaf6"/><rect x="437.88" y="331.02" width="12.46" height="11.59" fill="#d6e5f4"/><rect x="449.74" y="331.02" width="11.86" height="11.59" fill="#dceaf6"/><rect x="283.70" y="342.01" width="12.46" height="11.59" fill="#e1edf8"/><rect x="295.56" y="342.01" width="12.46" height="11.59" fill="#e6f0f9"/><rect x="307.42" y="342.01" width="12.46" height="11.59" fill="#eaf2fb"/><rect x="319.28" y="342.01" width="12.46" height="11.59" fill="#e5eff9"/><rect x="331.14" y="342.01" width="12.46" height="11.59" fill="#eaf2fb"/><rect x="343.00" y="342.01" width="12.46" height="11.59" fill="#e3eef8"/><rect x="354.86" y="342.01" width="12.46" height="11.59" fill="#e6f0f9"/><rect x="366.72" y="342.01" width="12.46" height="11.59" fill="#eaf2fb"/><rect x="378.58" y="342.01" width="12.46" height="11.59" fill="#e4eff9"/><rect x="390.44" y="342.01" width="12.46" height="11.59" fill="#e6f0f9"/><rect x="402.30" y="342.01" width="12.46" height="11.59" fill="#eaf2fb"/><rect x="414.16" y="342.01" width="12.46" height="11.59" fill="#e5eff9"/><rect x="426.02" y="342.01" width="12.46" height="11.59" fill="#e5eff9"/><rect x="437.88" y="342.01" width="12.46" height="11.59" fill="#e8f1fa"/><rect x="449.74" y="342.01" width="11.86" height="11.59" fill="#e1edf8"/><rect x="283.70" y="353.01" width="12.46" height="10.29" fill="#e8f1fa"/><rect x="295.56" y="353.01" width="12.46" height="10.29" fill="#e8f1fa"/><rect x="307.42" y="353.01" width="12.46" height="10.29" fill="#eef5fc"/><rect x="319.28" y="353.01" width="12.46" height="10.29" fill="#f3f8fe"/><rect x="331.14" y="353.01" width="12.46" height="10.29" fill="#e5eff9"/><rect x="343.00" y="353.01" width="12.46" height="10.29" fill="#e0ecf8"/><rect x="354.86" y="353.01" width="12.46" height="10.29" fill="#f3f8fe"/><rect x="366.72" y="353.01" width="12.46" height="10.29" fill="#eaf2fb"/><rect x="378.58" y="353.01" width="12.46" height="10.29" fill="#f3f8fe"/><rect x="390.44" y="353.01" width="12.46" height="10.29" fill="#e0ecf8"/><rect x="402.30" y="353.01" width="12.46" height="10.29" fill="#ebf3fb"/><rect x="414.16" y="353.01" width="12.46" height="10.29" fill="#f1f7fd"/><rect x="426.02" y="353.01" width="12.46" height="10.29" fill="#eef5fc"/><rect x="437.88" y="353.01" width="12.46" height="10.29" fill="#e0ecf8"/><rect x="449.74" y="353.01" width="11.86" height="10.29" fill="#e8f1fa"/></g>
<g fill="#fff"><rect x="295.06" y="198.40" width="1" height="164.90" opacity="0.77"/><rect x="306.92" y="198.40" width="1" height="164.90" opacity="0.50"/><rect x="318.78" y="198.40" width="1" height="164.90" opacity="0.77"/><rect x="330.64" y="198.40" width="1" height="164.90" opacity="0.39"/><rect x="342.50" y="198.40" width="1" height="164.90" opacity="0.50"/><rect x="354.36" y="198.40" width="1" height="164.90" opacity="0.55"/><rect x="366.22" y="198.40" width="1" height="164.90" opacity="0.28"/><rect x="378.08" y="198.40" width="1" height="164.90" opacity="0.77"/><rect x="389.94" y="198.40" width="1" height="164.90" opacity="0.28"/><rect x="401.80" y="198.40" width="1" height="164.90" opacity="0.77"/><rect x="413.66" y="198.40" width="1" height="164.90" opacity="0.28"/><rect x="425.52" y="198.40" width="1" height="164.90" opacity="0.77"/><rect x="437.38" y="198.40" width="1" height="164.90" opacity="0.28"/><rect x="449.24" y="198.40" width="1" height="164.90" opacity="0.77"/></g>
<path d="M283.20,198.30H462.10M283.20,363.20H462.10" stroke="#7c8086" stroke-width="1.35" fill="none"/>
<path d="M283.70,197.80V363.80M461.60,197.80V363.80" stroke="#4a4e55" stroke-width="1" fill="none"/>
<path d="M283.70,363.30v2.6 M283.70,363.30h-2.6 M313.35,363.30v2.6 M283.70,335.82h-2.6 M343.00,363.30v2.6 M283.70,308.33h-2.6 M372.65,363.30v2.6 M283.70,280.85h-2.6 M402.30,363.30v2.6 M283.70,253.37h-2.6 M431.95,363.30v2.6 M283.70,225.88h-2.6 M461.60,363.30v2.6 M283.70,198.40h-2.6" stroke="#4a4e55" stroke-width="1" fill="none"/>
<text x="284.40" y="379.3" text-anchor="middle">−30</text>
<text x="314.05" y="379.3" text-anchor="middle">−20</text>
<text x="343.70" y="379.3" text-anchor="middle">−10</text>
<text x="373.35" y="379.3" text-anchor="middle">0</text>
<text x="403.00" y="379.3" text-anchor="middle">10</text>
<text x="432.65" y="379.3" text-anchor="middle">20</text>
<text x="462.30" y="379.3" text-anchor="middle">30</text>
<text x="372.65" y="397.5" text-anchor="middle">Δazimuth [°]</text>
<g shape-rendering="crispEdges"><rect x="513.50" y="198.40" width="12.47" height="12.29" fill="#dce9f6"/><rect x="525.37" y="198.40" width="12.47" height="12.29" fill="#eef5fc"/><rect x="537.23" y="198.40" width="12.47" height="12.29" fill="#e0ecf8"/><rect x="549.10" y="198.40" width="12.47" height="12.29" fill="#dce9f6"/><rect x="560.97" y="198.40" width="12.47" height="12.29" fill="#dce9f6"/><rect x="572.83" y="198.40" width="12.47" height="12.29" fill="#e0ecf8"/><rect x="584.70" y="198.40" width="12.47" height="12.29" fill="#e5eff9"/><rect x="596.57" y="198.40" width="12.47" height="12.29" fill="#d6e6f4"/><rect x="608.43" y="198.40" width="12.47" height="12.29" fill="#e5eff9"/><rect x="620.30" y="198.40" width="12.47" height="12.29" fill="#e0ecf8"/><rect x="632.17" y="198.40" width="12.47" height="12.29" fill="#dce9f6"/><rect x="644.03" y="198.40" width="12.47" height="12.29" fill="#dce9f6"/><rect x="655.90" y="198.40" width="12.47" height="12.29" fill="#e0ecf8"/><rect x="667.77" y="198.40" width="12.47" height="12.29" fill="#eef5fc"/><rect x="679.63" y="198.40" width="11.87" height="12.29" fill="#dce9f6"/><rect x="513.50" y="210.09" width="12.47" height="11.59" fill="#f3f8fe"/><rect x="525.37" y="210.09" width="12.47" height="11.59" fill="#eef5fc"/><rect x="537.23" y="210.09" width="12.47" height="11.59" fill="#dce9f6"/><rect x="549.10" y="210.09" width="12.47" height="11.59" fill="#dce9f6"/><rect x="560.97" y="210.09" width="12.47" height="11.59" fill="#e0ecf8"/><rect x="572.83" y="210.09" width="12.47" height="11.59" fill="#d6e6f4"/><rect x="584.70" y="210.09" width="12.47" height="11.59" fill="#c6dbef"/><rect x="596.57" y="210.09" width="12.47" height="11.59" fill="#deebf7"/><rect x="608.43" y="210.09" width="12.47" height="11.59" fill="#c6dbef"/><rect x="620.30" y="210.09" width="12.47" height="11.59" fill="#d6e6f4"/><rect x="632.17" y="210.09" width="12.47" height="11.59" fill="#e0ecf8"/><rect x="644.03" y="210.09" width="12.47" height="11.59" fill="#dce9f6"/><rect x="655.90" y="210.09" width="12.47" height="11.59" fill="#dce9f6"/><rect x="667.77" y="210.09" width="12.47" height="11.59" fill="#eef5fc"/><rect x="679.63" y="210.09" width="11.87" height="11.59" fill="#f3f8fe"/><rect x="513.50" y="221.09" width="12.47" height="11.59" fill="#f6faff"/><rect x="525.37" y="221.09" width="12.47" height="11.59" fill="#e0ecf8"/><rect x="537.23" y="221.09" width="12.47" height="11.59" fill="#d9e8f5"/><rect x="549.10" y="221.09" width="12.47" height="11.59" fill="#d3e4f3"/><rect x="560.97" y="221.09" width="12.47" height="11.59" fill="#b7d4ea"/><rect x="572.83" y="221.09" width="12.47" height="11.59" fill="#b4d3e9"/><rect x="584.70" y="221.09" width="12.47" height="11.59" fill="#b4d3e9"/><rect x="596.57" y="221.09" width="12.47" height="11.59" fill="#c6dbef"/><rect x="608.43" y="221.09" width="12.47" height="11.59" fill="#b4d3e9"/><rect x="620.30" y="221.09" width="12.47" height="11.59" fill="#b4d3e9"/><rect x="632.17" y="221.09" width="12.47" height="11.59" fill="#b7d4ea"/><rect x="644.03" y="221.09" width="12.47" height="11.59" fill="#d3e4f3"/><rect x="655.90" y="221.09" width="12.47" height="11.59" fill="#d6e6f4"/><rect x="667.77" y="221.09" width="12.47" height="11.59" fill="#e0ecf8"/><rect x="679.63" y="221.09" width="11.87" height="11.59" fill="#f6faff"/><rect x="513.50" y="232.08" width="12.47" height="11.59" fill="#dce9f6"/><rect x="525.37" y="232.08" width="12.47" height="11.59" fill="#d0e1f2"/><rect x="537.23" y="232.08" width="12.47" height="11.59" fill="#d6e6f4"/><rect x="549.10" y="232.08" width="12.47" height="11.59" fill="#d0e1f2"/><rect x="560.97" y="232.08" width="12.47" height="11.59" fill="#d0e1f2"/><rect x="572.83" y="232.08" width="12.47" height="11.59" fill="#cadef0"/><rect x="584.70" y="232.08" width="12.47" height="11.59" fill="#bfd8ed"/><rect x="596.57" y="232.08" width="12.47" height="11.59" fill="#d6e6f4"/><rect x="608.43" y="232.08" width="12.47" height="11.59" fill="#bfd8ed"/><rect x="620.30" y="232.08" width="12.47" height="11.59" fill="#caddf0"/><rect x="632.17" y="232.08" width="12.47" height="11.59" fill="#d0e1f2"/><rect x="644.03" y="232.08" width="12.47" height="11.59" fill="#d0e1f2"/><rect x="655.90" y="232.08" width="12.47" height="11.59" fill="#d6e6f4"/><rect x="667.77" y="232.08" width="12.47" height="11.59" fill="#d0e1f2"/><rect x="679.63" y="232.08" width="11.87" height="11.59" fill="#dce9f6"/><rect x="513.50" y="243.07" width="12.47" height="11.59" fill="#d9e8f5"/><rect x="525.37" y="243.07" width="12.47" height="11.59" fill="#d6e6f4"/><rect x="537.23" y="243.07" width="12.47" height="11.59" fill="#d6e6f4"/><rect x="549.10" y="243.07" width="12.47" height="11.59" fill="#d0e1f2"/><rect x="560.97" y="243.07" width="12.47" height="11.59" fill="#cfe1f2"/><rect x="572.83" y="243.07" width="12.47" height="11.59" fill="#c6dbef"/><rect x="584.70" y="243.07" width="12.47" height="11.59" fill="#82bbdb"/><rect x="596.57" y="243.07" width="12.47" height="11.59" fill="#a6cee4"/><rect x="608.43" y="243.07" width="12.47" height="11.59" fill="#82bbdb"/><rect x="620.30" y="243.07" width="12.47" height="11.59" fill="#b7d4ea"/><rect x="632.17" y="243.07" width="12.47" height="11.59" fill="#c6dbef"/><rect x="644.03" y="243.07" width="12.47" height="11.59" fill="#cfe1f2"/><rect x="655.90" y="243.07" width="12.47" height="11.59" fill="#d0e1f2"/><rect x="667.77" y="243.07" width="12.47" height="11.59" fill="#cfe1f2"/><rect x="679.63" y="243.07" width="11.87" height="11.59" fill="#d6e6f4"/><rect x="513.50" y="254.07" width="12.47" height="11.59" fill="#dce9f6"/><rect x="525.37" y="254.07" width="12.47" height="11.59" fill="#cfe1f2"/><rect x="537.23" y="254.07" width="12.47" height="11.59" fill="#cadef0"/><rect x="549.10" y="254.07" width="12.47" height="11.59" fill="#a6cee4"/><rect x="560.97" y="254.07" width="12.47" height="11.59" fill="#a0cbe2"/><rect x="572.83" y="254.07" width="12.47" height="11.59" fill="#a6cee4"/><rect x="584.70" y="254.07" width="12.47" height="11.59" fill="#84bcdb"/><rect x="596.57" y="254.07" width="12.47" height="11.59" fill="#a0cbe2"/><rect x="608.43" y="254.07" width="12.47" height="11.59" fill="#84bcdb"/><rect x="620.30" y="254.07" width="12.47" height="11.59" fill="#a4cce3"/><rect x="632.17" y="254.07" width="12.47" height="11.59" fill="#a0cbe2"/><rect x="644.03" y="254.07" width="12.47" height="11.59" fill="#a6cee4"/><rect x="655.90" y="254.07" width="12.47" height="11.59" fill="#cadef0"/><rect x="667.77" y="254.07" width="12.47" height="11.59" fill="#cfe1f2"/><rect x="679.63" y="254.07" width="11.87" height="11.59" fill="#dce9f6"/><rect x="513.50" y="265.06" width="12.47" height="11.59" fill="#a4cce3"/><rect x="525.37" y="265.06" width="12.47" height="11.59" fill="#89bedc"/><rect x="537.23" y="265.06" width="12.47" height="11.59" fill="#7ab6d9"/><rect x="549.10" y="265.06" width="12.47" height="11.59" fill="#91c3de"/><rect x="560.97" y="265.06" width="12.47" height="11.59" fill="#89bedc"/><rect x="572.83" y="265.06" width="12.47" height="11.59" fill="#6aaed6"/><rect x="584.70" y="265.06" width="12.47" height="11.59" fill="#3e8ec4"/><rect x="596.57" y="265.06" width="12.47" height="11.59" fill="#3585bf"/><rect x="608.43" y="265.06" width="12.47" height="11.59" fill="#3e8ec4"/><rect x="620.30" y="265.06" width="12.47" height="11.59" fill="#6aaed6"/><rect x="632.17" y="265.06" width="12.47" height="11.59" fill="#89bedc"/><rect x="644.03" y="265.06" width="12.47" height="11.59" fill="#91c3de"/><rect x="655.90" y="265.06" width="12.47" height="11.59" fill="#7ab6d9"/><rect x="667.77" y="265.06" width="12.47" height="11.59" fill="#89bedc"/><rect x="679.63" y="265.06" width="11.87" height="11.59" fill="#a4cce3"/><rect x="513.50" y="276.05" width="12.47" height="11.59" fill="#8dc1dd"/><rect x="525.37" y="276.05" width="12.47" height="11.59" fill="#94c4df"/><rect x="537.23" y="276.05" width="12.47" height="11.59" fill="#8dc1dd"/><rect x="549.10" y="276.05" width="12.47" height="11.59" fill="#6aaed6"/><rect x="560.97" y="276.05" width="12.47" height="11.59" fill="#5ba3d0"/><rect x="572.83" y="276.05" width="12.47" height="11.59" fill="#2e7ebc"/><rect x="584.70" y="276.05" width="12.47" height="11.59" fill="#1764ab"/><rect x="596.57" y="276.05" width="12.47" height="11.59" fill="#08306b"/><rect x="608.43" y="276.05" width="12.47" height="11.59" fill="#1764ab"/><rect x="620.30" y="276.05" width="12.47" height="11.59" fill="#2e7ebc"/><rect x="632.17" y="276.05" width="12.47" height="11.59" fill="#5ba3d0"/><rect x="644.03" y="276.05" width="12.47" height="11.59" fill="#6aaed6"/><rect x="655.90" y="276.05" width="12.47" height="11.59" fill="#8dc1dd"/><rect x="667.77" y="276.05" width="12.47" height="11.59" fill="#94c4df"/><rect x="679.63" y="276.05" width="11.87" height="11.59" fill="#8dc1dd"/><rect x="513.50" y="287.05" width="12.47" height="11.59" fill="#a4cce3"/><rect x="525.37" y="287.05" width="12.47" height="11.59" fill="#89bedc"/><rect x="537.23" y="287.05" width="12.47" height="11.59" fill="#7ab6d9"/><rect x="549.10" y="287.05" width="12.47" height="11.59" fill="#91c3de"/><rect x="560.97" y="287.05" width="12.47" height="11.59" fill="#89bedc"/><rect x="572.83" y="287.05" width="12.47" height="11.59" fill="#6aaed6"/><rect x="584.70" y="287.05" width="12.47" height="11.59" fill="#3e8ec4"/><rect x="596.57" y="287.05" width="12.47" height="11.59" fill="#3585bf"/><rect x="608.43" y="287.05" width="12.47" height="11.59" fill="#3e8ec4"/><rect x="620.30" y="287.05" width="12.47" height="11.59" fill="#6aaed6"/><rect x="632.17" y="287.05" width="12.47" height="11.59" fill="#89bedc"/><rect x="644.03" y="287.05" width="12.47" height="11.59" fill="#91c3de"/><rect x="655.90" y="287.05" width="12.47" height="11.59" fill="#7ab6d9"/><rect x="667.77" y="287.05" width="12.47" height="11.59" fill="#89bedc"/><rect x="679.63" y="287.05" width="11.87" height="11.59" fill="#a4cce3"/><rect x="513.50" y="298.04" width="12.47" height="11.59" fill="#dce9f6"/><rect x="525.37" y="298.04" width="12.47" height="11.59" fill="#cfe1f2"/><rect x="537.23" y="298.04" width="12.47" height="11.59" fill="#cadef0"/><rect x="549.10" y="298.04" width="12.47" height="11.59" fill="#a6cee4"/><rect x="560.97" y="298.04" width="12.47" height="11.59" fill="#a0cbe2"/><rect x="572.83" y="298.04" width="12.47" height="11.59" fill="#a4cce3"/><rect x="584.70" y="298.04" width="12.47" height="11.59" fill="#84bcdb"/><rect x="596.57" y="298.04" width="12.47" height="11.59" fill="#a0cbe2"/><rect x="608.43" y="298.04" width="12.47" height="11.59" fill="#84bcdb"/><rect x="620.30" y="298.04" width="12.47" height="11.59" fill="#a6cee4"/><rect x="632.17" y="298.04" width="12.47" height="11.59" fill="#a0cbe2"/><rect x="644.03" y="298.04" width="12.47" height="11.59" fill="#a6cee4"/><rect x="655.90" y="298.04" width="12.47" height="11.59" fill="#cadef0"/><rect x="667.77" y="298.04" width="12.47" height="11.59" fill="#cfe1f2"/><rect x="679.63" y="298.04" width="11.87" height="11.59" fill="#dce9f6"/><rect x="513.50" y="309.03" width="12.47" height="11.59" fill="#d6e6f4"/><rect x="525.37" y="309.03" width="12.47" height="11.59" fill="#cfe1f2"/><rect x="537.23" y="309.03" width="12.47" height="11.59" fill="#d0e1f2"/><rect x="549.10" y="309.03" width="12.47" height="11.59" fill="#cfe1f2"/><rect x="560.97" y="309.03" width="12.47" height="11.59" fill="#c6dbef"/><rect x="572.83" y="309.03" width="12.47" height="11.59" fill="#b7d4ea"/><rect x="584.70" y="309.03" width="12.47" height="11.59" fill="#82bbdb"/><rect x="596.57" y="309.03" width="12.47" height="11.59" fill="#a6cee4"/><rect x="608.43" y="309.03" width="12.47" height="11.59" fill="#82bbdb"/><rect x="620.30" y="309.03" width="12.47" height="11.59" fill="#c6dbef"/><rect x="632.17" y="309.03" width="12.47" height="11.59" fill="#cfe1f2"/><rect x="644.03" y="309.03" width="12.47" height="11.59" fill="#d0e1f2"/><rect x="655.90" y="309.03" width="12.47" height="11.59" fill="#d6e6f4"/><rect x="667.77" y="309.03" width="12.47" height="11.59" fill="#d6e6f4"/><rect x="679.63" y="309.03" width="11.87" height="11.59" fill="#d9e8f5"/><rect x="513.50" y="320.03" width="12.47" height="11.59" fill="#dce9f6"/><rect x="525.37" y="320.03" width="12.47" height="11.59" fill="#d0e1f2"/><rect x="537.23" y="320.03" width="12.47" height="11.59" fill="#d6e6f4"/><rect x="549.10" y="320.03" width="12.47" height="11.59" fill="#d0e1f2"/><rect x="560.97" y="320.03" width="12.47" height="11.59" fill="#d0e1f2"/><rect x="572.83" y="320.03" width="12.47" height="11.59" fill="#caddf0"/><rect x="584.70" y="320.03" width="12.47" height="11.59" fill="#bfd8ed"/><rect x="596.57" y="320.03" width="12.47" height="11.59" fill="#d6e6f4"/><rect x="608.43" y="320.03" width="12.47" height="11.59" fill="#bfd8ed"/><rect x="620.30" y="320.03" width="12.47" height="11.59" fill="#cadef0"/><rect x="632.17" y="320.03" width="12.47" height="11.59" fill="#d0e1f2"/><rect x="644.03" y="320.03" width="12.47" height="11.59" fill="#d0e1f2"/><rect x="655.90" y="320.03" width="12.47" height="11.59" fill="#d6e6f4"/><rect x="667.77" y="320.03" width="12.47" height="11.59" fill="#d0e1f2"/><rect x="679.63" y="320.03" width="11.87" height="11.59" fill="#dce9f6"/><rect x="513.50" y="331.02" width="12.47" height="11.59" fill="#f6faff"/><rect x="525.37" y="331.02" width="12.47" height="11.59" fill="#e0ecf8"/><rect x="537.23" y="331.02" width="12.47" height="11.59" fill="#d6e6f4"/><rect x="549.10" y="331.02" width="12.47" height="11.59" fill="#d3e4f3"/><rect x="560.97" y="331.02" width="12.47" height="11.59" fill="#b7d4ea"/><rect x="572.83" y="331.02" width="12.47" height="11.59" fill="#b4d3e9"/><rect x="584.70" y="331.02" width="12.47" height="11.59" fill="#b4d3e9"/><rect x="596.57" y="331.02" width="12.47" height="11.59" fill="#c6dbef"/><rect x="608.43" y="331.02" width="12.47" height="11.59" fill="#b4d3e9"/><rect x="620.30" y="331.02" width="12.47" height="11.59" fill="#b4d3e9"/><rect x="632.17" y="331.02" width="12.47" height="11.59" fill="#b7d4ea"/><rect x="644.03" y="331.02" width="12.47" height="11.59" fill="#d3e4f3"/><rect x="655.90" y="331.02" width="12.47" height="11.59" fill="#d9e8f5"/><rect x="667.77" y="331.02" width="12.47" height="11.59" fill="#e0ecf8"/><rect x="679.63" y="331.02" width="11.87" height="11.59" fill="#f6faff"/><rect x="513.50" y="342.01" width="12.47" height="11.59" fill="#f3f8fe"/><rect x="525.37" y="342.01" width="12.47" height="11.59" fill="#eef5fc"/><rect x="537.23" y="342.01" width="12.47" height="11.59" fill="#dce9f6"/><rect x="549.10" y="342.01" width="12.47" height="11.59" fill="#dce9f6"/><rect x="560.97" y="342.01" width="12.47" height="11.59" fill="#e0ecf8"/><rect x="572.83" y="342.01" width="12.47" height="11.59" fill="#d6e6f4"/><rect x="584.70" y="342.01" width="12.47" height="11.59" fill="#c6dbef"/><rect x="596.57" y="342.01" width="12.47" height="11.59" fill="#deebf7"/><rect x="608.43" y="342.01" width="12.47" height="11.59" fill="#c6dbef"/><rect x="620.30" y="342.01" width="12.47" height="11.59" fill="#d6e6f4"/><rect x="632.17" y="342.01" width="12.47" height="11.59" fill="#e0ecf8"/><rect x="644.03" y="342.01" width="12.47" height="11.59" fill="#dce9f6"/><rect x="655.90" y="342.01" width="12.47" height="11.59" fill="#dce9f6"/><rect x="667.77" y="342.01" width="12.47" height="11.59" fill="#eef5fc"/><rect x="679.63" y="342.01" width="11.87" height="11.59" fill="#f3f8fe"/><rect x="513.50" y="353.01" width="12.47" height="10.29" fill="#dce9f6"/><rect x="525.37" y="353.01" width="12.47" height="10.29" fill="#eef5fc"/><rect x="537.23" y="353.01" width="12.47" height="10.29" fill="#e0ecf8"/><rect x="549.10" y="353.01" width="12.47" height="10.29" fill="#dce9f6"/><rect x="560.97" y="353.01" width="12.47" height="10.29" fill="#dce9f6"/><rect x="572.83" y="353.01" width="12.47" height="10.29" fill="#e0ecf8"/><rect x="584.70" y="353.01" width="12.47" height="10.29" fill="#e5eff9"/><rect x="596.57" y="353.01" width="12.47" height="10.29" fill="#d6e6f4"/><rect x="608.43" y="353.01" width="12.47" height="10.29" fill="#e5eff9"/><rect x="620.30" y="353.01" width="12.47" height="10.29" fill="#e0ecf8"/><rect x="632.17" y="353.01" width="12.47" height="10.29" fill="#dce9f6"/><rect x="644.03" y="353.01" width="12.47" height="10.29" fill="#dce9f6"/><rect x="655.90" y="353.01" width="12.47" height="10.29" fill="#e0ecf8"/><rect x="667.77" y="353.01" width="12.47" height="10.29" fill="#eef5fc"/><rect x="679.63" y="353.01" width="11.87" height="10.29" fill="#dce9f6"/></g>
<g fill="#fff"><rect x="524.87" y="198.40" width="1" height="164.90" opacity="0.77"/><rect x="536.73" y="198.40" width="1" height="164.90" opacity="0.50"/><rect x="548.60" y="198.40" width="1" height="164.90" opacity="0.77"/><rect x="560.47" y="198.40" width="1" height="164.90" opacity="0.39"/><rect x="572.33" y="198.40" width="1" height="164.90" opacity="0.50"/><rect x="584.20" y="198.40" width="1" height="164.90" opacity="0.55"/><rect x="596.07" y="198.40" width="1" height="164.90" opacity="0.28"/><rect x="607.93" y="198.40" width="1" height="164.90" opacity="0.77"/><rect x="619.80" y="198.40" width="1" height="164.90" opacity="0.28"/><rect x="631.67" y="198.40" width="1" height="164.90" opacity="0.77"/><rect x="643.53" y="198.40" width="1" height="164.90" opacity="0.28"/><rect x="655.40" y="198.40" width="1" height="164.90" opacity="0.77"/><rect x="667.27" y="198.40" width="1" height="164.90" opacity="0.28"/><rect x="679.13" y="198.40" width="1" height="164.90" opacity="0.77"/></g>
<path d="M513.00,198.30H692.00M513.00,363.20H692.00" stroke="#7c8086" stroke-width="1.35" fill="none"/>
<path d="M513.50,197.80V363.80M691.50,197.80V363.80" stroke="#4a4e55" stroke-width="1" fill="none"/>
<path d="M513.50,363.30v2.6 M513.50,363.30h-2.6 M543.17,363.30v2.6 M513.50,335.82h-2.6 M572.83,363.30v2.6 M513.50,308.33h-2.6 M602.50,363.30v2.6 M513.50,280.85h-2.6 M632.17,363.30v2.6 M513.50,253.37h-2.6 M661.83,363.30v2.6 M513.50,225.88h-2.6 M691.50,363.30v2.6 M513.50,198.40h-2.6" stroke="#4a4e55" stroke-width="1" fill="none"/>
<text x="514.20" y="379.3" text-anchor="middle">−30</text>
<text x="543.87" y="379.3" text-anchor="middle">−20</text>
<text x="573.53" y="379.3" text-anchor="middle">−10</text>
<text x="603.20" y="379.3" text-anchor="middle">0</text>
<text x="632.87" y="379.3" text-anchor="middle">10</text>
<text x="662.53" y="379.3" text-anchor="middle">20</text>
<text x="692.20" y="379.3" text-anchor="middle">30</text>
<text x="602.50" y="397.5" text-anchor="middle">Δazimuth [°]</text>
<rect x="245.50" y="12.50" width="8.00" height="164.80" fill="url(#cb)" stroke="#62656b" stroke-width="1"/>
<text x="259.40" y="40.80">6</text>
<text x="259.40" y="73.90">5</text>
<text x="259.40" y="107.10">4</text>
<text x="259.40" y="140.20">3</text>
<text x="259.40" y="173.30">2</text>
<path d="M253.50,35.50h2.3 M253.50,68.60h2.3 M253.50,101.80h2.3 M253.50,134.90h2.3 M253.50,168.00h2.3" stroke="#4a4e55" stroke-width="1" fill="none"/>
<rect x="470.50" y="12.50" width="8.00" height="164.80" fill="url(#cb)" stroke="#62656b" stroke-width="1"/>
<text x="484.60" y="25.20">7</text>
<text x="484.60" y="55.60">6</text>
<text x="484.60" y="85.90">5</text>
<text x="484.60" y="116.30">4</text>
<text x="484.60" y="146.60">3</text>
<text x="484.60" y="177.00">2</text>
<path d="M478.50,19.90h2.3 M478.50,50.30h2.3 M478.50,80.60h2.3 M478.50,111.00h2.3 M478.50,141.30h2.3 M478.50,171.70h2.3" stroke="#4a4e55" stroke-width="1" fill="none"/>
<rect x="701.60" y="12.50" width="7.90" height="164.80" fill="url(#cb)" stroke="#62656b" stroke-width="1"/>
<text x="713.30" y="36.90">25</text>
<text x="713.30" y="73.50">20</text>
<text x="713.30" y="110.10">15</text>
<text x="713.30" y="146.60">10</text>
<path d="M709.50,31.60h2.3 M709.50,68.20h2.3 M709.50,104.80h2.3 M709.50,141.30h2.3" stroke="#4a4e55" stroke-width="1" fill="none"/>
<text transform="translate(752.3,96.10) rotate(-90)" text-anchor="middle" style="font-size:15.2px">Semivariance [<tspan style="font-size:15.8px">mm</tspan><tspan style="font-size:10.5px" dy="-4">2</tspan><tspan dy="4">]</tspan></text>
<rect x="245.50" y="198.40" width="8.00" height="164.90" fill="url(#cb)" stroke="#62656b" stroke-width="1"/>
<text x="257.40" y="223.30">4.0</text>
<text x="257.40" y="255.30">3.5</text>
<text x="257.40" y="287.20">3.0</text>
<text x="257.40" y="319.10">2.5</text>
<text x="257.40" y="351.00">2.0</text>
<path d="M253.50,218.00h2.3 M253.50,250.00h2.3 M253.50,281.90h2.3 M253.50,313.80h2.3 M253.50,345.70h2.3" stroke="#4a4e55" stroke-width="1" fill="none"/>
<rect x="472.60" y="198.40" width="8.20" height="164.90" fill="url(#cb)" stroke="#62656b" stroke-width="1"/>
<text x="486.40" y="208.80">5.0</text>
<text x="486.40" y="233.60">4.5</text>
<text x="486.40" y="258.40">4.0</text>
<text x="486.40" y="283.10">3.5</text>
<text x="486.40" y="307.80">3.0</text>
<text x="486.40" y="332.40">2.5</text>
<text x="486.40" y="357.10">2.0</text>
<path d="M480.80,203.50h2.3 M480.80,228.30h2.3 M480.80,253.10h2.3 M480.80,277.80h2.3 M480.80,302.50h2.3 M480.80,327.10h2.3 M480.80,351.80h2.3" stroke="#4a4e55" stroke-width="1" fill="none"/>
<rect x="702.60" y="198.40" width="8.00" height="164.90" fill="url(#cb)" stroke="#62656b" stroke-width="1"/>
<text x="713.00" y="211.30">16</text>
<text x="713.00" y="240.00">14</text>
<text x="713.00" y="268.70">12</text>
<text x="713.00" y="297.50">10</text>
<text x="713.00" y="326.20">8</text>
<text x="713.00" y="354.90">6</text>
<path d="M710.60,206.00h2.3 M710.60,234.70h2.3 M710.60,263.40h2.3 M710.60,292.20h2.3 M710.60,320.90h2.3 M710.60,349.60h2.3" stroke="#4a4e55" stroke-width="1" fill="none"/>
<text transform="translate(752.3,282.05) rotate(-90)" text-anchor="middle" style="font-size:15.2px">Semivariance [<tspan style="font-size:15.8px">mm</tspan><tspan style="font-size:10.5px" dy="-4">2</tspan><tspan dy="4">]</tspan></text>
</svg>
</body></html>
